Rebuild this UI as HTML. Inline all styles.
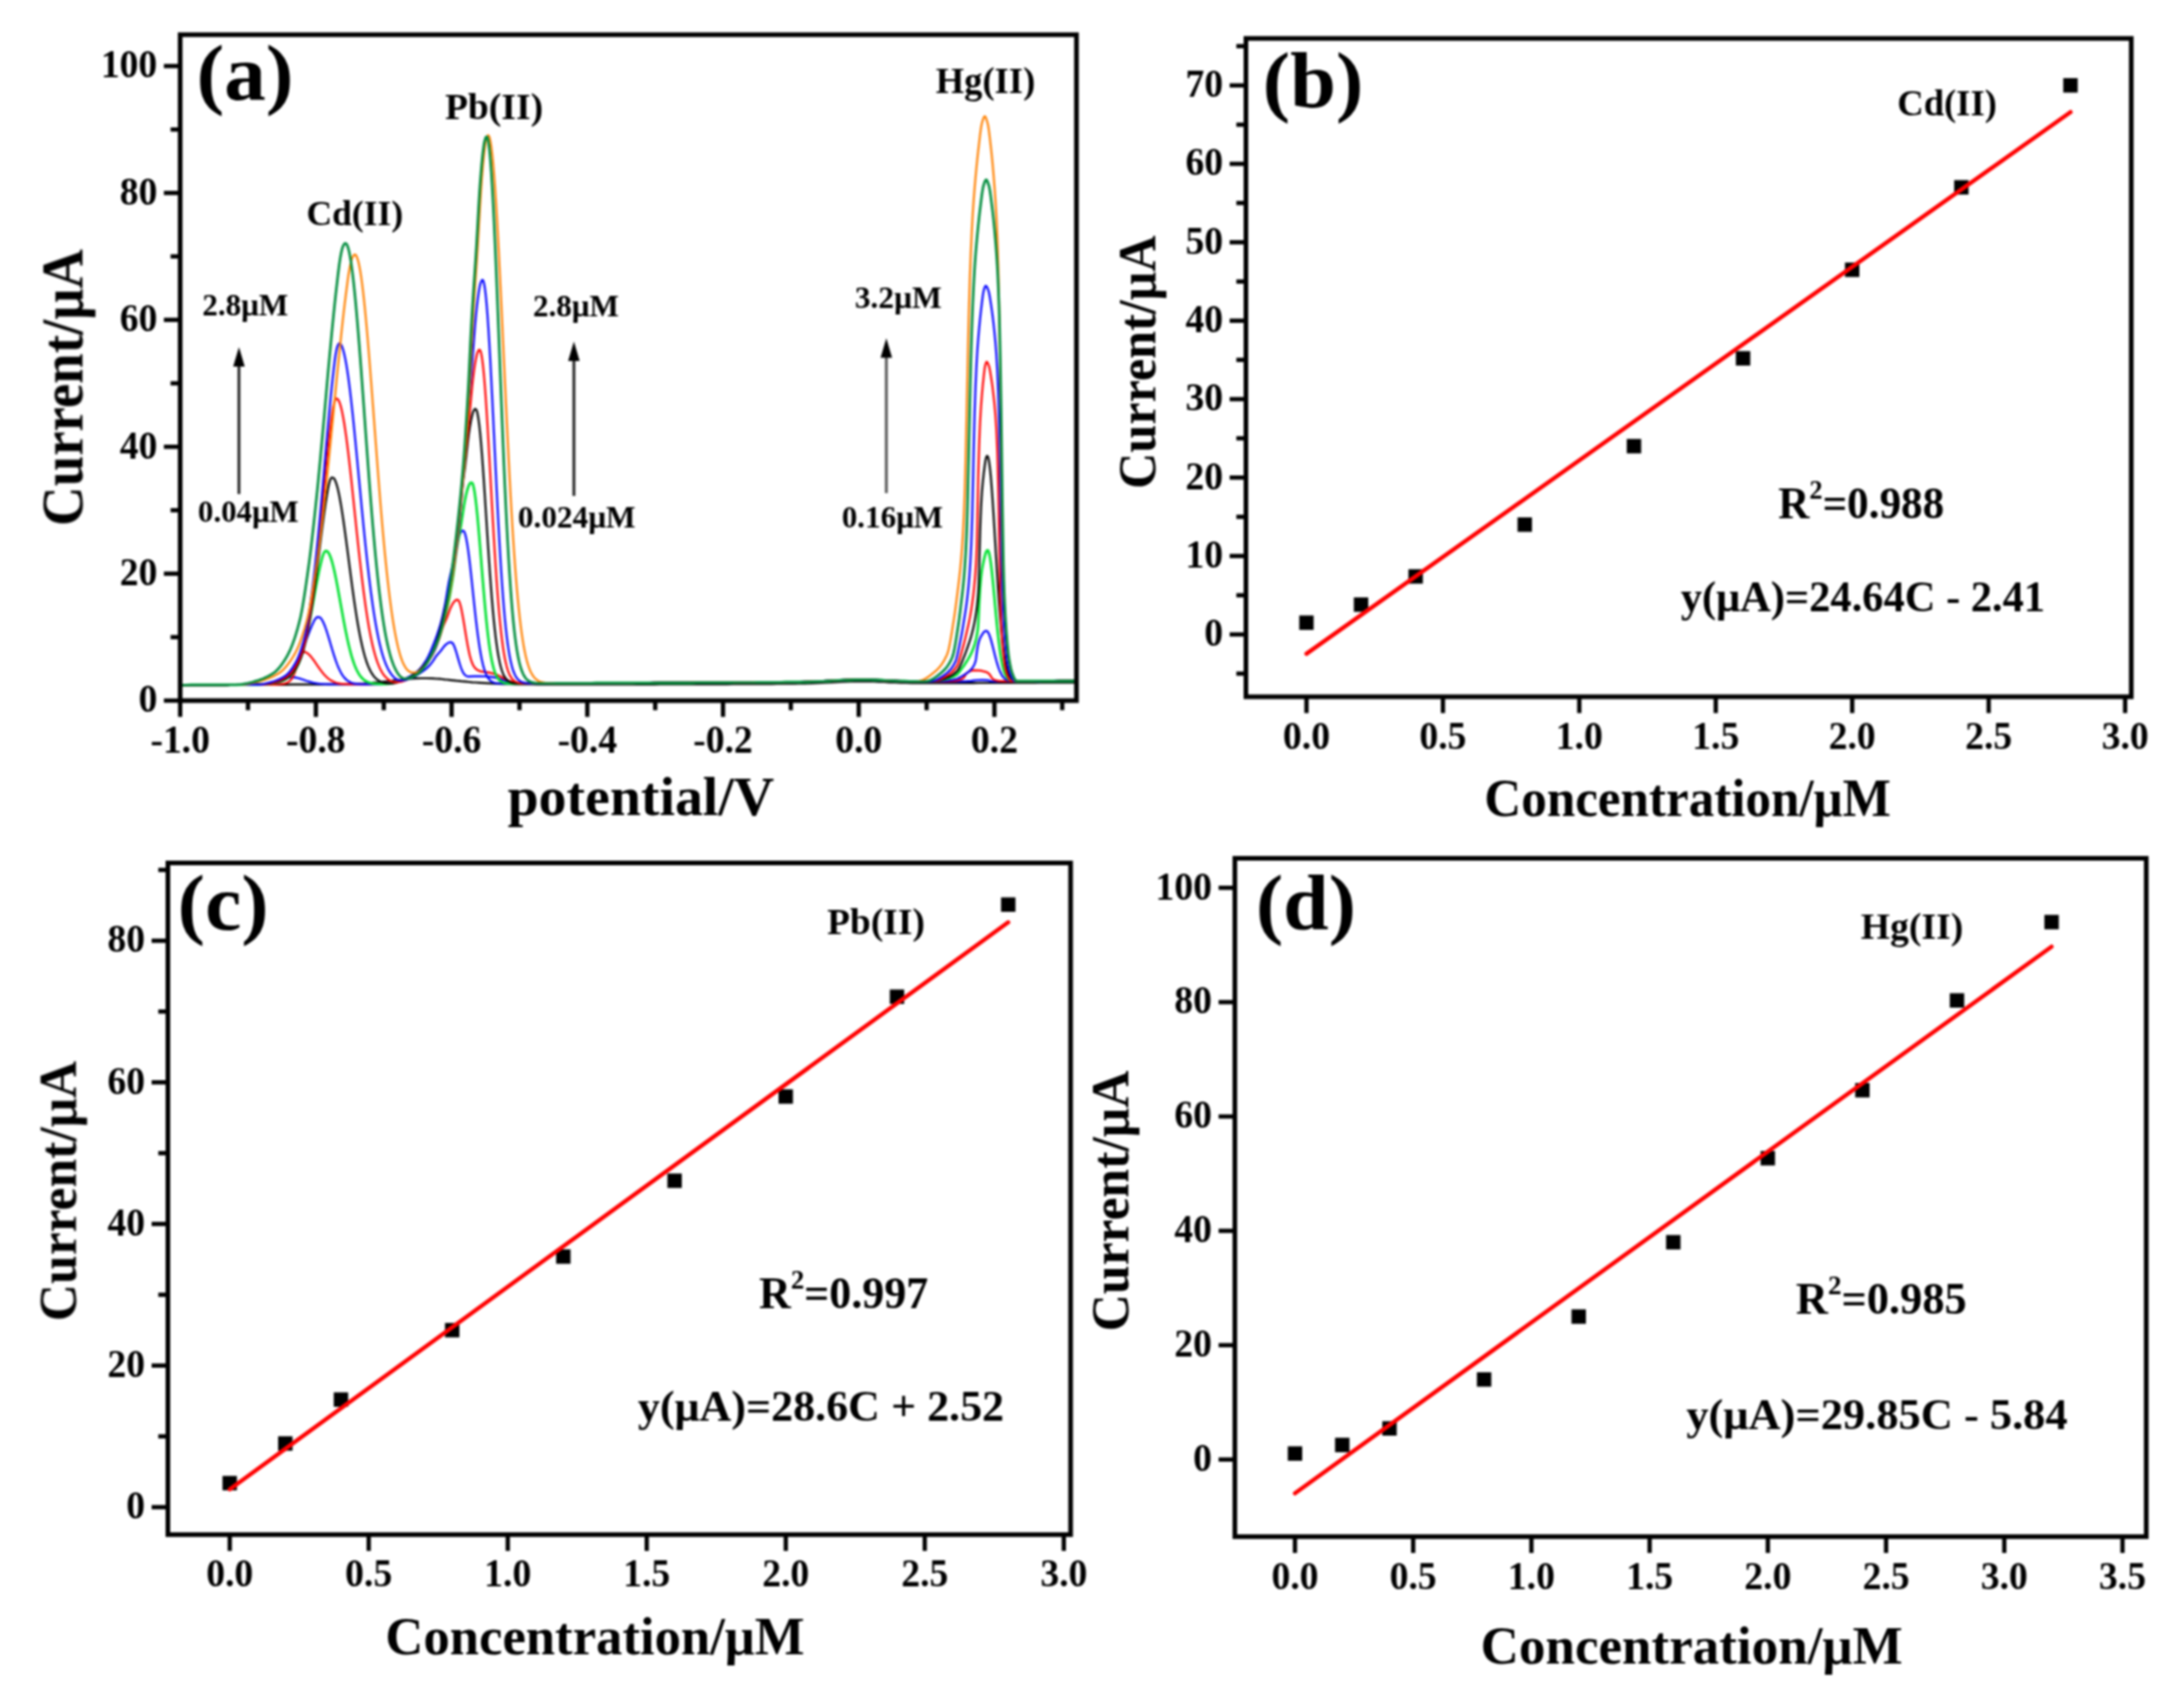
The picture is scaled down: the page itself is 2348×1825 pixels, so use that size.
<!DOCTYPE html>
<html lang="en">
<head>
<meta charset="utf-8">
<title>Figure</title>
<style>
html,body{margin:0;padding:0;background:#fff;}
body{width:2348px;height:1825px;overflow:hidden;}
svg{display:block;}
svg text{font-family:'Liberation Serif', serif;font-weight:bold;fill:#000;}
</style>
</head>
<body>
<svg width="2348" height="1825" viewBox="0 0 2348 1825">
<defs><filter id="soft" filterUnits="userSpaceOnUse" x="0" y="0" width="2348" height="1825" color-interpolation-filters="sRGB"><feGaussianBlur stdDeviation="0.8"/></filter></defs>
<rect x="0" y="0" width="2348" height="1825" fill="#ffffff"/>
<g filter="url(#soft)">
<g>
<path d="M193.7,736.3 199.7,736.3 205.7,736.2 211.7,736.2 217.7,736.2 223.7,736.2 229.7,736.1 235.7,736.1 241.7,736.1 247.7,736.0 253.7,736.0 259.7,736.0 265.7,736.0 271.7,735.9 277.7,735.9 283.7,735.9 289.7,735.8 295.7,735.8 301.7,735.8 307.7,735.8 313.7,735.7 319.7,735.7 325.7,735.7 331.7,735.7 337.7,735.6 343.7,735.6 349.7,735.5 355.7,735.5 361.7,735.4 367.7,735.3 373.7,735.2 379.7,735.1 385.7,734.8 391.2,734.6 395.7,734.3 399.2,734.0 402.7,733.7 405.7,733.5 408.7,733.2 411.2,732.9 413.7,732.6 416.2,732.3 418.7,732.1 421.2,731.8 423.7,731.4 426.2,731.1 428.7,730.8 431.2,730.6 433.7,730.3 436.2,730.0 439.2,729.7 442.7,729.4 446.7,729.2 452.7,729.0 458.7,729.0 464.7,729.2 469.2,729.5 472.7,729.7 475.7,730.0 478.2,730.3 480.7,730.5 483.2,730.8 485.7,731.1 488.2,731.4 490.7,731.7 493.2,731.9 495.7,732.2 498.2,732.4 501.2,732.7 504.2,733.0 507.7,733.3 511.2,733.5 515.7,733.8 520.7,734.1 524.7,734.3 529.7,734.6 535.7,734.9 541.7,735.1 547.7,735.2 553.7,735.3 559.7,735.4 565.7,735.5 571.7,735.5 577.7,735.6 583.7,735.6 589.7,735.6 595.7,735.7 601.7,735.7 607.7,735.7 613.7,735.7 619.7,735.7 625.7,735.7 631.7,735.7 637.7,735.7 643.7,735.7 649.7,735.7 655.7,735.7 661.7,735.7 667.7,735.7 673.7,735.7 679.7,735.6 685.7,735.6 691.7,735.6 697.7,735.6 703.7,735.6 709.7,735.5 715.7,735.5 721.7,735.5 727.7,735.5 733.7,735.5 739.7,735.4 745.7,735.4 751.7,735.4 757.7,735.4 763.7,735.3 769.7,735.3 775.7,735.3 781.7,735.3 787.7,735.2 793.7,735.2 799.7,735.2 805.7,735.2 811.7,735.1 817.7,735.1 823.7,735.1 829.7,735.1 835.7,735.0 841.7,735.0 847.7,734.9 853.7,734.8 859.7,734.7 865.7,734.6 871.7,734.4 877.7,734.2 883.7,733.9 888.7,733.7 893.7,733.4 898.7,733.1 903.7,732.8 909.2,732.6 915.2,732.4 921.2,732.3 927.2,732.3 933.2,732.3 939.2,732.5 945.2,732.8 950.7,733.0 956.2,733.3 962.2,733.5 968.2,733.8 974.2,733.9 980.2,734.1 986.2,734.1 992.2,734.2 998.2,734.2 1004.2,734.2 1010.2,734.2 1016.2,734.2 1022.2,734.2 1028.2,734.2 1034.2,734.1 1040.2,734.1 1046.2,734.1 1052.2,734.0 1058.2,734.0 1064.2,734.0 1070.2,734.0 1076.2,733.9 1082.2,733.9 1088.2,733.9 1094.2,733.9 1100.2,733.8 1106.2,733.8 1112.2,733.8 1118.2,733.7 1124.2,733.7 1130.2,733.7 1136.2,733.7 1142.2,733.6 1148.2,733.6 1154.2,733.6 1157.2,733.6" fill="none" stroke="#000000" stroke-width="2.2" stroke-linejoin="round"/>
<path d="M193.7,736.3 199.7,736.3 205.7,736.2 211.7,736.2 217.7,736.2 223.7,736.2 229.7,736.1 235.7,736.1 241.7,736.1 247.7,736.0 253.7,736.0 259.7,736.0 265.7,736.0 271.7,735.9 277.7,735.9 283.7,735.7 289.2,735.5 292.2,735.2 294.2,734.9 295.7,734.7 297.2,734.3 298.2,733.9 299.2,733.6 300.2,733.2 301.2,732.8 302.2,732.3 303.2,731.8 303.7,731.6 304.2,731.3 304.7,731.0 305.2,730.8 305.7,730.5 306.2,730.2 306.7,729.9 307.2,729.7 307.7,729.4 308.7,728.9 309.7,728.5 310.7,728.1 312.2,727.8 317.2,728.1 318.7,728.4 320.2,728.8 321.2,729.0 322.2,729.3 323.2,729.6 324.2,730.0 325.2,730.3 326.2,730.6 327.2,731.0 328.2,731.3 329.2,731.7 330.2,732.0 331.2,732.3 332.2,732.6 333.2,732.9 334.2,733.2 335.2,733.4 336.7,733.8 338.2,734.1 339.7,734.4 341.7,734.7 344.2,735.0 347.7,735.2 353.7,735.4 359.7,735.5 365.7,735.5 371.7,735.5 377.7,735.4 383.7,735.4 389.7,735.4 395.7,735.3 401.7,735.0 406.7,734.8 411.2,734.5 414.7,734.2 417.7,733.9 420.2,733.6 422.2,733.3 424.2,733.1 426.2,732.8 428.2,732.4 429.7,732.2 431.2,731.9 432.7,731.6 434.2,731.3 435.7,730.9 436.7,730.6 437.7,730.3 438.7,730.0 439.7,729.6 440.7,729.2 441.7,728.9 442.7,728.5 443.7,728.0 444.7,727.5 445.2,727.3 445.7,727.0 446.2,726.7 446.7,726.5 447.2,726.2 447.7,725.9 448.2,725.6 448.7,725.3 449.2,725.0 449.7,724.7 450.2,724.3 450.7,724.0 451.2,723.7 451.7,723.4 452.2,723.1 452.7,722.7 453.2,722.4 453.7,722.1 454.2,721.7 454.7,721.4 455.2,721.0 455.7,720.6 456.2,720.3 456.7,719.9 457.2,719.5 457.7,719.1 458.2,718.7 458.7,718.2 459.2,717.8 459.7,717.3 460.2,716.9 460.7,716.4 461.2,715.8 461.7,715.3 462.2,714.7 462.7,714.1 463.2,713.5 463.7,712.9 464.2,712.2 464.7,711.6 465.2,710.9 465.7,710.2 466.2,709.4 466.7,708.6 467.2,707.8 467.7,707.0 468.2,706.2 468.7,705.5 469.2,704.9 469.7,704.3 470.2,703.7 470.7,703.1 471.2,702.5 471.7,702.0 472.2,701.4 472.7,700.8 473.2,700.3 473.7,699.7 474.2,699.0 474.7,698.3 475.2,697.7 475.7,697.0 476.2,696.3 476.7,695.6 477.2,695.0 477.7,694.4 478.2,693.9 478.7,693.4 479.2,692.9 479.7,692.5 480.2,692.1 480.7,691.7 481.2,691.4 481.7,691.1 482.2,690.8 483.2,690.5 484.7,690.2 486.2,690.9 486.7,691.4 487.2,692.2 487.7,693.2 488.2,694.2 488.7,695.5 489.2,696.8 489.7,698.3 490.2,699.9 490.7,701.5 491.2,703.2 491.7,704.9 492.2,706.7 492.7,708.4 493.2,710.1 493.7,711.8 494.2,713.4 494.7,715.0 495.2,716.4 495.7,717.8 496.2,719.1 496.7,720.3 497.2,721.4 497.7,722.4 498.2,723.3 498.7,724.0 499.2,724.7 499.7,725.2 500.2,725.7 500.7,726.1 501.2,726.4 502.2,726.8 503.7,727.1 509.7,726.9 515.7,726.8 521.7,727.0 525.7,727.3 528.2,727.6 530.2,727.9 531.7,728.2 533.2,728.5 534.2,728.8 535.2,729.1 536.2,729.4 537.2,729.7 538.2,730.0 539.2,730.3 540.2,730.7 541.2,731.0 542.2,731.3 543.2,731.7 544.2,732.0 545.2,732.3 546.2,732.5 547.7,732.9 549.2,733.2 550.7,733.5 552.7,733.8 555.2,734.0 559.2,734.3 565.2,734.5 571.2,734.5 577.2,734.5 583.2,734.5 589.2,734.5 595.2,734.4 601.2,734.4 607.2,734.4 613.2,734.4 619.2,734.3 625.2,734.3 631.2,734.3 637.2,734.3 643.2,734.2 649.2,734.2 655.2,734.2 661.2,734.1 667.2,734.1 673.2,734.1 679.2,734.1 685.2,734.0 691.2,734.0 697.2,734.0 703.2,733.9 709.2,733.9 715.2,733.9 721.2,733.9 727.2,733.8 733.2,733.8 739.2,733.8 745.2,733.8 751.2,733.7 757.2,733.7 763.2,733.7 769.2,733.6 775.2,733.6 781.2,733.6 787.2,733.6 793.2,733.5 799.2,733.5 805.2,733.5 811.2,733.4 817.2,733.4 823.2,733.4 829.2,733.4 835.2,733.3 841.2,733.3 847.2,733.2 853.2,733.1 859.2,733.0 865.2,732.9 871.2,732.7 877.2,732.5 883.2,732.2 888.2,732.0 893.2,731.7 897.7,731.5 902.7,731.2 908.2,730.9 914.2,730.7 920.2,730.6 926.2,730.5 932.2,730.6 938.2,730.8 944.2,731.0 950.2,731.3 955.7,731.6 961.7,731.8 967.7,732.0 973.7,732.2 979.7,732.4 985.7,732.4 991.7,732.5 997.7,732.5 1003.7,732.5 1009.7,732.5 1015.7,732.5 1021.7,732.5 1027.7,732.4 1033.7,732.4 1039.7,732.2 1044.2,731.9 1045.7,731.6 1047.2,731.3 1050.2,731.0 1056.2,730.8 1061.7,731.1 1063.2,731.4 1064.2,731.8 1065.7,732.1 1071.7,732.3 1077.7,732.2 1083.7,732.2 1089.7,732.2 1095.7,732.1 1101.7,732.1 1107.7,732.1 1113.7,732.1 1119.7,732.0 1125.7,732.0 1131.7,732.0 1137.7,731.9 1143.7,731.9 1149.7,731.9 1155.7,731.9 1157.2,731.9" fill="none" stroke="#0000ff" stroke-width="2.2" stroke-linejoin="round"/>
<path d="M193.7,736.3 199.7,736.3 205.7,736.2 211.7,736.2 217.7,736.2 223.7,736.2 229.7,736.1 235.7,736.1 241.7,736.1 247.7,736.0 253.7,736.0 259.7,736.0 265.7,736.0 271.7,735.9 277.7,735.9 283.7,735.9 289.7,735.8 295.7,735.8 299.7,735.5 302.7,735.2 304.7,734.9 306.2,734.6 307.2,734.3 308.2,733.9 309.2,733.4 309.7,733.2 310.2,732.9 310.7,732.5 311.2,732.1 311.7,731.7 312.2,731.2 312.7,730.7 313.2,730.1 313.7,729.4 314.2,728.5 314.7,727.6 315.2,726.6 315.7,725.6 316.2,724.5 316.7,723.3 317.2,722.0 317.7,720.7 318.2,719.3 318.7,717.9 319.2,716.4 319.7,714.9 320.2,713.3 320.7,711.8 321.2,710.2 321.7,708.8 322.2,707.3 322.7,706.0 323.2,704.7 323.7,703.5 324.2,702.3 324.7,701.4 325.2,700.8 325.7,700.6 328.2,700.9 329.2,701.3 329.7,701.6 330.2,701.9 330.7,702.3 331.2,702.7 331.7,703.1 332.2,703.5 332.7,704.0 333.2,704.5 333.7,705.1 334.2,705.6 334.7,706.2 335.2,706.9 335.7,707.5 336.2,708.2 336.7,708.8 337.2,709.5 337.7,710.2 338.2,710.9 338.7,711.6 339.2,712.4 339.7,713.1 340.2,713.8 340.7,714.6 341.2,715.3 341.7,716.0 342.2,716.8 342.7,717.5 343.2,718.2 343.7,718.9 344.2,719.6 344.7,720.3 345.2,720.9 345.7,721.6 346.2,722.3 346.7,722.9 347.2,723.5 347.7,724.1 348.2,724.7 348.7,725.2 349.2,725.8 349.7,726.3 350.2,726.8 350.7,727.3 351.2,727.8 351.7,728.2 352.2,728.7 352.7,729.1 353.2,729.5 353.7,729.9 354.2,730.2 354.7,730.6 355.2,730.9 355.7,731.2 356.2,731.5 356.7,731.8 357.2,732.1 358.2,732.5 359.2,733.0 360.2,733.3 361.2,733.7 362.2,734.0 363.7,734.3 365.2,734.6 367.2,734.9 370.2,735.1 376.2,735.4 382.2,735.4 388.2,735.4 394.2,735.4 400.2,735.3 404.7,735.0 407.7,734.8 410.7,734.5 413.2,734.2 415.7,733.9 418.2,733.6 420.2,733.3 421.7,733.1 423.2,732.8 424.7,732.5 426.2,732.1 427.7,731.8 428.7,731.5 429.7,731.2 430.7,730.9 431.7,730.6 432.7,730.3 433.7,730.0 434.7,729.7 435.7,729.3 436.7,729.0 437.7,728.6 438.7,728.3 439.7,727.9 440.7,727.5 441.7,727.0 442.2,726.7 442.7,726.5 443.2,726.2 443.7,725.9 444.2,725.6 444.7,725.2 445.2,724.9 445.7,724.6 446.2,724.2 446.7,723.9 447.2,723.5 447.7,723.1 448.2,722.7 448.7,722.3 449.2,721.9 449.7,721.5 450.2,721.1 450.7,720.6 451.2,720.1 451.7,719.6 452.2,719.1 452.7,718.6 453.2,718.0 453.7,717.5 454.2,716.9 454.7,716.3 455.2,715.7 455.7,715.1 456.2,714.5 456.7,713.8 457.2,713.2 457.7,712.5 458.2,711.9 458.7,711.2 459.2,710.6 459.7,709.9 460.2,709.2 460.7,708.6 461.2,707.9 461.7,707.2 462.2,706.4 462.7,705.7 463.2,704.9 463.7,704.2 464.2,703.4 464.7,702.5 465.2,701.7 465.7,700.8 466.2,699.9 466.7,699.0 467.2,698.0 467.7,697.0 468.2,695.9 468.7,694.8 469.2,693.7 469.7,692.5 470.2,691.2 470.7,689.9 471.2,688.6 471.7,687.3 472.2,685.9 472.7,684.4 473.2,682.8 473.7,681.2 474.2,679.6 474.7,678.0 475.2,676.5 475.7,675.1 476.2,673.8 476.7,672.6 477.2,671.4 477.7,670.2 478.2,669.1 478.7,668.0 479.2,666.8 479.7,665.7 480.2,664.5 480.7,663.3 481.2,662.0 481.7,660.6 482.2,659.2 482.7,657.8 483.2,656.4 483.7,655.1 484.2,653.9 484.7,652.7 485.2,651.7 485.7,650.7 486.2,649.8 486.7,648.9 487.2,648.1 487.7,647.4 488.2,646.8 488.7,646.2 489.2,645.7 489.7,645.3 490.2,645.0 491.2,644.6 492.7,645.0 493.2,645.7 493.7,646.7 494.2,647.9 494.7,649.5 495.2,651.3 495.7,653.3 496.2,655.6 496.7,658.1 497.2,660.7 497.7,663.4 498.2,666.3 498.7,669.3 499.2,672.3 499.7,675.4 500.2,678.5 500.7,681.5 501.2,684.6 501.7,687.5 502.2,690.4 502.7,693.2 503.2,695.8 503.7,698.3 504.2,700.7 504.7,702.9 505.2,705.0 505.7,706.8 506.2,708.6 506.7,710.1 507.2,711.5 507.7,712.8 508.2,713.9 508.7,714.9 509.2,715.8 509.7,716.6 510.2,717.3 510.7,717.9 511.2,718.4 511.7,718.9 512.2,719.3 512.7,719.7 513.2,720.0 513.7,720.3 514.2,720.6 515.2,721.0 516.2,721.4 517.2,721.6 518.7,721.9 520.7,722.2 522.7,722.5 524.7,722.7 526.7,723.1 528.2,723.4 529.7,723.8 530.7,724.1 531.7,724.4 532.7,724.7 533.7,725.1 534.7,725.6 535.7,726.0 536.7,726.5 537.2,726.7 537.7,727.0 538.2,727.3 538.7,727.5 539.2,727.8 539.7,728.1 540.2,728.3 540.7,728.6 541.2,728.9 541.7,729.1 542.2,729.4 542.7,729.6 543.2,729.9 544.2,730.4 545.2,730.8 546.2,731.3 547.2,731.7 548.2,732.0 549.2,732.4 550.2,732.6 551.2,732.9 552.7,733.2 554.2,733.5 556.2,733.8 558.7,734.1 563.2,734.3 569.2,734.5 575.2,734.5 581.2,734.5 587.2,734.5 593.2,734.5 599.2,734.4 605.2,734.4 611.2,734.4 617.2,734.3 623.2,734.3 629.2,734.3 635.2,734.3 641.2,734.2 647.2,734.2 653.2,734.2 659.2,734.1 665.2,734.1 671.2,734.1 677.2,734.1 683.2,734.0 689.2,734.0 695.2,734.0 701.2,734.0 707.2,733.9 713.2,733.9 719.2,733.9 725.2,733.8 731.2,733.8 737.2,733.8 743.2,733.8 749.2,733.7 755.2,733.7 761.2,733.7 767.2,733.7 773.2,733.6 779.2,733.6 785.2,733.6 791.2,733.5 797.2,733.5 803.2,733.5 809.2,733.5 815.2,733.4 821.2,733.4 827.2,733.4 833.2,733.3 839.2,733.3 845.2,733.2 851.2,733.2 857.2,733.1 863.2,733.0 869.2,732.8 875.2,732.6 881.2,732.3 886.7,732.1 891.7,731.8 896.2,731.5 901.2,731.3 906.2,731.0 912.2,730.8 918.2,730.6 924.2,730.5 930.2,730.6 936.2,730.7 942.2,730.9 948.2,731.2 953.7,731.5 959.7,731.7 965.7,732.0 971.7,732.2 977.7,732.3 983.7,732.4 989.7,732.5 995.7,732.5 1001.7,732.5 1007.7,732.5 1013.7,732.4 1019.7,732.2 1024.7,732.0 1027.2,731.7 1028.7,731.3 1030.2,731.0 1031.2,730.7 1032.2,730.4 1033.2,730.1 1034.2,729.7 1034.7,729.4 1035.2,729.1 1035.7,728.7 1036.2,728.2 1036.7,727.5 1037.2,726.6 1037.7,725.8 1038.2,724.9 1038.7,724.2 1039.2,723.7 1039.7,723.2 1040.2,722.8 1040.7,722.4 1041.2,722.2 1042.2,721.7 1043.2,721.3 1044.2,721.0 1045.2,720.7 1046.7,720.4 1052.7,720.6 1054.7,720.9 1056.2,721.2 1057.7,721.6 1058.7,721.8 1059.7,722.1 1060.7,722.5 1061.7,723.0 1062.2,723.3 1062.7,723.7 1063.2,724.1 1063.7,724.7 1064.2,725.3 1064.7,726.0 1065.2,726.8 1065.7,727.6 1066.2,728.4 1066.7,729.1 1067.2,729.6 1067.7,730.0 1068.2,730.2 1069.2,730.7 1070.2,731.0 1071.2,731.3 1072.7,731.6 1074.7,731.9 1078.7,732.1 1084.7,732.2 1090.7,732.2 1096.7,732.1 1102.7,732.1 1108.7,732.1 1114.7,732.1 1120.7,732.0 1126.7,732.0 1132.7,732.0 1138.7,731.9 1144.7,731.9 1150.7,731.9 1156.7,731.9 1157.2,731.9" fill="none" stroke="#ff0000" stroke-width="2.2" stroke-linejoin="round"/>
<path d="M193.7,736.3 199.7,736.3 205.7,736.2 211.7,736.2 217.7,736.2 223.7,736.2 229.7,736.1 235.7,736.1 241.7,736.1 247.7,736.0 253.7,736.0 259.7,736.0 265.7,736.0 271.7,735.9 276.7,735.6 280.7,735.4 284.2,735.1 287.2,734.8 289.7,734.5 291.7,734.2 293.7,733.9 295.2,733.6 296.7,733.2 297.7,733.0 298.7,732.6 299.7,732.3 300.7,731.9 301.7,731.5 302.7,731.1 303.7,730.7 304.7,730.2 305.2,729.9 305.7,729.6 306.2,729.3 306.7,729.0 307.2,728.6 307.7,728.3 308.2,727.9 308.7,727.5 309.2,727.1 309.7,726.7 310.2,726.3 310.7,725.8 311.2,725.3 311.7,724.8 312.2,724.3 312.7,723.7 313.2,723.0 313.7,722.3 314.2,721.6 314.7,720.8 315.2,720.0 315.7,719.1 316.2,718.3 316.7,717.4 317.2,716.6 317.7,715.7 318.2,714.7 318.7,713.8 319.2,712.8 319.7,711.7 320.2,710.7 320.7,709.6 321.2,708.5 321.7,707.3 322.2,706.2 322.7,705.1 323.2,703.9 323.7,702.7 324.2,701.4 324.7,700.1 325.2,698.8 325.7,697.5 326.2,696.2 326.7,694.8 327.2,693.5 327.7,692.2 328.2,690.8 328.7,689.4 329.2,688.0 329.7,686.7 330.2,685.3 330.7,683.9 331.2,682.6 331.7,681.3 332.2,680.0 332.7,678.7 333.2,677.5 333.7,676.2 334.2,675.0 334.7,673.8 335.2,672.6 335.7,671.5 336.2,670.4 336.7,669.4 337.2,668.3 337.7,667.3 338.2,666.4 338.7,665.6 339.2,664.9 339.7,664.3 340.2,663.8 340.7,663.5 341.7,663.1 343.7,663.5 344.2,663.8 344.7,664.3 345.2,664.9 345.7,665.5 346.2,666.3 346.7,667.2 347.2,668.1 347.7,669.2 348.2,670.3 348.7,671.5 349.2,672.7 349.7,674.1 350.2,675.5 350.7,676.9 351.2,678.4 351.7,680.0 352.2,681.5 352.7,683.1 353.2,684.8 353.7,686.4 354.2,688.1 354.7,689.8 355.2,691.5 355.7,693.2 356.2,694.9 356.7,696.5 357.2,698.2 357.7,699.9 358.2,701.5 358.7,703.1 359.2,704.6 359.7,706.2 360.2,707.7 360.7,709.1 361.2,710.6 361.7,711.9 362.2,713.3 362.7,714.6 363.2,715.8 363.7,717.0 364.2,718.2 364.7,719.3 365.2,720.3 365.7,721.3 366.2,722.3 366.7,723.2 367.2,724.1 367.7,724.9 368.2,725.7 368.7,726.4 369.2,727.1 369.7,727.7 370.2,728.3 370.7,728.9 371.2,729.4 371.7,729.9 372.2,730.4 372.7,730.8 373.2,731.2 373.7,731.6 374.2,731.9 374.7,732.3 375.2,732.6 375.7,732.8 376.7,733.3 377.7,733.7 378.7,734.0 379.7,734.3 381.2,734.6 383.2,734.9 386.2,735.2 392.2,735.3 398.2,735.3 404.2,735.3 410.2,735.2 413.2,735.0 415.2,734.7 417.2,734.4 418.7,734.1 420.2,733.9 421.7,733.6 423.2,733.2 424.7,732.9 426.2,732.6 427.7,732.2 428.7,732.0 429.7,731.7 430.7,731.4 431.7,731.0 432.7,730.7 433.7,730.3 434.7,729.9 435.7,729.4 436.7,729.0 437.7,728.5 438.2,728.2 438.7,728.0 439.2,727.7 439.7,727.4 440.2,727.1 440.7,726.9 441.2,726.6 441.7,726.3 442.2,726.0 442.7,725.7 443.2,725.4 443.7,725.0 444.2,724.7 444.7,724.4 445.2,724.1 445.7,723.7 446.2,723.4 446.7,723.0 447.2,722.7 447.7,722.3 448.2,721.9 448.7,721.6 449.2,721.1 449.7,720.7 450.2,720.2 450.7,719.7 451.2,719.2 451.7,718.7 452.2,718.1 452.7,717.5 453.2,716.9 453.7,716.2 454.2,715.6 454.7,714.9 455.2,714.2 455.7,713.5 456.2,712.7 456.7,712.0 457.2,711.2 457.7,710.5 458.2,709.6 458.7,708.8 459.2,707.8 459.7,706.9 460.2,705.9 460.7,704.9 461.2,703.8 461.7,702.7 462.2,701.6 462.7,700.5 463.2,699.3 463.7,698.1 464.2,696.9 464.7,695.7 465.2,694.5 465.7,693.2 466.2,692.0 466.7,690.7 467.2,689.5 467.7,688.2 468.2,686.9 468.7,685.5 469.2,684.2 469.7,682.8 470.2,681.4 470.7,679.9 471.2,678.4 471.7,676.9 472.2,675.3 472.7,673.7 473.2,672.0 473.7,670.2 474.2,668.4 474.7,666.5 475.2,664.5 475.7,662.4 476.2,660.2 476.7,657.9 477.2,655.5 477.7,653.1 478.2,650.6 478.7,648.1 479.2,645.4 479.7,642.5 480.2,639.4 480.7,636.3 481.2,633.2 481.7,630.2 482.2,627.4 482.7,624.8 483.2,622.4 483.7,620.1 484.2,617.8 484.7,615.7 485.2,613.5 485.7,611.3 486.2,609.1 486.7,606.9 487.2,604.5 487.7,602.0 488.2,599.4 488.7,596.8 489.2,594.1 489.7,591.5 490.2,589.0 490.7,586.6 491.2,584.5 491.7,582.5 492.2,580.7 492.7,579.0 493.2,577.4 493.7,575.9 494.2,574.7 494.7,573.5 495.2,572.5 495.7,571.7 496.2,571.2 496.7,570.7 497.2,570.4 498.7,570.8 499.2,571.7 499.7,572.9 500.2,574.5 500.7,576.4 501.2,578.6 501.7,581.2 502.2,584.0 502.7,587.2 503.2,590.6 503.7,594.2 504.2,598.1 504.7,602.2 505.2,606.4 505.7,610.8 506.2,615.3 506.7,619.9 507.2,624.5 507.7,629.3 508.2,634.0 508.7,638.8 509.2,643.5 509.7,648.2 510.2,652.8 510.7,657.4 511.2,661.9 511.7,666.3 512.2,670.5 512.7,674.7 513.2,678.7 513.7,682.5 514.2,686.2 514.7,689.7 515.2,693.1 515.7,696.3 516.2,699.3 516.7,702.2 517.2,704.9 517.7,707.5 518.2,709.9 518.7,712.1 519.2,714.2 519.7,716.1 520.2,717.9 520.7,719.5 521.2,721.0 521.7,722.4 522.2,723.7 522.7,724.9 523.2,725.9 523.7,726.9 524.2,727.8 524.7,728.6 525.2,729.3 525.7,729.9 526.2,730.5 526.7,731.0 527.2,731.5 527.7,731.9 528.2,732.3 528.7,732.6 529.2,732.9 530.2,733.3 531.2,733.7 532.2,734.0 533.7,734.3 536.2,734.5 542.2,734.7 548.2,734.7 554.2,734.6 560.2,734.6 566.2,734.6 572.2,734.5 578.2,734.5 584.2,734.5 590.2,734.5 596.2,734.4 602.2,734.4 608.2,734.4 614.2,734.4 620.2,734.3 626.2,734.3 632.2,734.3 638.2,734.2 644.2,734.2 650.2,734.2 656.2,734.2 662.2,734.1 668.2,734.1 674.2,734.1 680.2,734.1 686.2,734.0 692.2,734.0 698.2,734.0 704.2,733.9 710.2,733.9 716.2,733.9 722.2,733.9 728.2,733.8 734.2,733.8 740.2,733.8 746.2,733.7 752.2,733.7 758.2,733.7 764.2,733.7 770.2,733.6 776.2,733.6 782.2,733.6 788.2,733.6 794.2,733.5 800.2,733.5 806.2,733.5 812.2,733.4 818.2,733.4 824.2,733.4 830.2,733.4 836.2,733.3 842.2,733.3 848.2,733.2 854.2,733.1 860.2,733.0 866.2,732.9 872.2,732.7 878.2,732.5 883.7,732.2 888.7,732.0 893.7,731.7 898.2,731.4 903.2,731.2 908.7,730.9 914.7,730.7 920.7,730.6 926.7,730.6 932.7,730.6 938.7,730.8 944.7,731.0 950.7,731.3 956.2,731.6 962.2,731.8 968.2,732.1 974.2,732.2 980.2,732.4 986.2,732.4 992.2,732.5 998.2,732.5 1004.2,732.5 1009.7,732.2 1013.2,731.9 1016.2,731.7 1019.2,731.4 1021.7,731.0 1023.7,730.8 1025.2,730.5 1026.7,730.2 1028.2,729.8 1029.2,729.5 1030.2,729.1 1031.2,728.6 1031.7,728.3 1032.2,728.0 1032.7,727.7 1033.2,727.4 1033.7,727.1 1034.2,726.8 1034.7,726.6 1035.2,726.3 1035.7,726.0 1036.2,725.6 1036.7,725.3 1037.2,725.0 1037.7,724.6 1038.2,724.3 1038.7,723.9 1039.2,723.6 1039.7,723.2 1040.2,722.9 1040.7,722.5 1041.2,722.1 1041.7,721.7 1042.2,721.3 1042.7,720.8 1043.2,720.3 1043.7,719.8 1044.2,719.2 1044.7,718.6 1045.2,718.0 1045.7,717.3 1046.2,716.6 1046.7,715.7 1047.2,714.8 1047.7,713.7 1048.2,712.4 1048.7,710.8 1049.2,708.7 1049.7,704.9 1050.2,701.0 1050.7,697.5 1051.2,694.6 1051.7,692.2 1052.2,690.3 1052.7,688.6 1053.2,687.1 1053.7,686.0 1054.2,684.9 1054.7,684.0 1055.2,683.1 1055.7,682.3 1056.2,681.5 1056.7,680.8 1057.2,680.1 1057.7,679.4 1058.2,678.9 1058.7,678.6 1059.2,678.3 1060.2,678.0 1061.2,678.4 1061.7,678.9 1062.2,679.6 1062.7,680.4 1063.2,681.5 1063.7,682.7 1064.2,684.1 1064.7,685.6 1065.2,687.2 1065.7,688.9 1066.2,690.7 1066.7,692.6 1067.2,694.5 1067.7,696.5 1068.2,698.5 1068.7,700.5 1069.2,702.5 1069.7,704.5 1070.2,706.4 1070.7,708.3 1071.2,710.2 1071.7,711.9 1072.2,713.6 1072.7,715.2 1073.2,716.8 1073.7,718.2 1074.2,719.6 1074.7,720.9 1075.2,722.0 1075.7,723.1 1076.2,724.1 1076.7,725.1 1077.2,725.9 1077.7,726.7 1078.2,727.3 1078.7,728.0 1079.2,728.5 1079.7,729.0 1080.2,729.4 1080.7,729.8 1081.2,730.2 1081.7,730.5 1082.2,730.7 1083.2,731.1 1084.2,731.4 1085.7,731.8 1088.2,732.0 1094.2,732.1 1100.2,732.1 1106.2,732.1 1112.2,732.1 1118.2,732.0 1124.2,732.0 1130.2,732.0 1136.2,732.0 1142.2,731.9 1148.2,731.9 1154.2,731.9 1157.2,731.9" fill="none" stroke="#0000ff" stroke-width="2.2" stroke-linejoin="round"/>
<path d="M193.7,736.3 199.7,736.3 205.7,736.2 211.7,736.2 217.7,736.2 223.7,736.2 229.7,736.1 235.7,736.1 241.7,736.1 247.7,736.0 253.7,736.0 259.7,736.0 265.7,736.0 271.7,735.9 277.7,735.9 282.7,735.6 285.2,735.4 287.7,735.1 289.7,734.8 291.7,734.5 293.7,734.2 295.2,733.9 296.7,733.6 298.2,733.3 299.7,732.9 300.7,732.6 301.7,732.3 302.7,732.0 303.7,731.7 304.7,731.2 305.7,730.7 306.2,730.4 306.7,730.1 307.2,729.8 307.7,729.5 308.2,729.2 308.7,728.8 309.2,728.5 309.7,728.1 310.2,727.7 310.7,727.3 311.2,726.9 311.7,726.5 312.2,726.0 312.7,725.6 313.2,725.1 313.7,724.6 314.2,724.0 314.7,723.4 315.2,722.8 315.7,722.1 316.2,721.4 316.7,720.7 317.2,720.0 317.7,719.2 318.2,718.4 318.7,717.5 319.2,716.6 319.7,715.7 320.2,714.7 320.7,713.7 321.2,712.5 321.7,711.3 322.2,709.9 322.7,708.4 323.2,706.9 323.7,705.3 324.2,703.6 324.7,702.0 325.2,700.2 325.7,698.5 326.2,696.8 326.7,694.9 327.2,693.0 327.7,691.0 328.2,689.0 328.7,686.8 329.2,684.7 329.7,682.5 330.2,680.2 330.7,677.9 331.2,675.6 331.7,673.3 332.2,670.8 332.7,668.3 333.2,665.8 333.7,663.2 334.2,660.5 334.7,657.9 335.2,655.2 335.7,652.5 336.2,649.9 336.7,647.1 337.2,644.3 337.7,641.6 338.2,638.8 338.7,636.0 339.2,633.3 339.7,630.6 340.2,628.0 340.7,625.5 341.2,622.9 341.7,620.4 342.2,617.9 342.7,615.4 343.2,613.0 343.7,610.7 344.2,608.4 344.7,606.3 345.2,604.2 345.7,602.1 346.2,600.1 346.7,598.3 347.2,596.8 347.7,595.5 348.2,594.3 348.7,593.4 349.2,592.9 349.7,592.4 350.2,592.1 351.7,592.5 352.2,592.9 352.7,593.5 353.2,594.2 353.7,595.0 354.2,596.0 354.7,597.1 355.2,598.4 355.7,599.8 356.2,601.3 356.7,602.9 357.2,604.7 357.7,606.5 358.2,608.5 358.7,610.5 359.2,612.7 359.7,614.9 360.2,617.2 360.7,619.6 361.2,622.1 361.7,624.6 362.2,627.2 362.7,629.8 363.2,632.5 363.7,635.2 364.2,637.9 364.7,640.7 365.2,643.4 365.7,646.2 366.2,649.0 366.7,651.8 367.2,654.6 367.7,657.3 368.2,660.1 368.7,662.8 369.2,665.5 369.7,668.2 370.2,670.8 370.7,673.4 371.2,676.0 371.7,678.5 372.2,680.9 372.7,683.3 373.2,685.7 373.7,688.0 374.2,690.2 374.7,692.4 375.2,694.5 375.7,696.5 376.2,698.5 376.7,700.4 377.2,702.3 377.7,704.1 378.2,705.8 378.7,707.4 379.2,709.0 379.7,710.5 380.2,712.0 380.7,713.4 381.2,714.7 381.7,716.0 382.2,717.2 382.7,718.4 383.2,719.5 383.7,720.5 384.2,721.5 384.7,722.4 385.2,723.3 385.7,724.2 386.2,724.9 386.7,725.7 387.2,726.4 387.7,727.0 388.2,727.7 388.7,728.2 389.2,728.8 389.7,729.3 390.2,729.8 390.7,730.2 391.2,730.6 391.7,731.0 392.2,731.3 392.7,731.7 393.2,732.0 393.7,732.3 394.2,732.5 395.2,733.0 396.2,733.4 397.2,733.7 398.2,734.0 399.7,734.4 401.2,734.6 403.7,734.9 408.2,735.2 414.2,735.2 417.2,734.9 419.2,734.6 420.7,734.4 422.2,734.1 423.7,733.8 425.2,733.4 426.7,733.0 427.7,732.8 428.7,732.5 429.7,732.2 430.7,732.0 431.7,731.7 432.7,731.4 433.7,731.1 434.7,730.7 435.7,730.4 436.7,730.0 437.7,729.5 438.7,729.1 439.7,728.6 440.2,728.3 440.7,728.1 441.2,727.8 441.7,727.5 442.2,727.2 442.7,726.9 443.2,726.6 443.7,726.3 444.2,726.0 444.7,725.7 445.2,725.3 445.7,725.0 446.2,724.6 446.7,724.3 447.2,723.9 447.7,723.6 448.2,723.2 448.7,722.8 449.2,722.4 449.7,722.0 450.2,721.6 450.7,721.2 451.2,720.8 451.7,720.4 452.2,720.0 452.7,719.5 453.2,719.1 453.7,718.7 454.2,718.2 454.7,717.7 455.2,717.3 455.7,716.8 456.2,716.2 456.7,715.6 457.2,715.0 457.7,714.4 458.2,713.7 458.7,713.0 459.2,712.3 459.7,711.5 460.2,710.7 460.7,709.9 461.2,709.1 461.7,708.2 462.2,707.3 462.7,706.4 463.2,705.5 463.7,704.6 464.2,703.6 464.7,702.7 465.2,701.6 465.7,700.5 466.2,699.4 466.7,698.2 467.2,697.0 467.7,695.7 468.2,694.4 468.7,693.1 469.2,691.7 469.7,690.3 470.2,688.9 470.7,687.4 471.2,685.9 471.7,684.4 472.2,682.9 472.7,681.3 473.2,679.8 473.7,678.2 474.2,676.6 474.7,675.1 475.2,673.5 475.7,671.8 476.2,670.2 476.7,668.5 477.2,666.8 477.7,665.0 478.2,663.2 478.7,661.3 479.2,659.4 479.7,657.5 480.2,655.5 480.7,653.4 481.2,651.3 481.7,649.1 482.2,646.8 482.7,644.4 483.2,641.9 483.7,639.2 484.2,636.4 484.7,633.6 485.2,630.6 485.7,627.6 486.2,624.5 486.7,621.3 487.2,618.0 487.7,614.5 488.2,610.7 488.7,606.8 489.2,602.9 489.7,599.1 490.2,595.4 490.7,592.1 491.2,588.9 491.7,586.0 492.2,583.1 492.7,580.3 493.2,577.6 493.7,574.9 494.2,572.2 494.7,569.5 495.2,566.7 495.7,563.7 496.2,560.6 496.7,557.4 497.2,554.1 497.7,550.8 498.2,547.5 498.7,544.3 499.2,541.2 499.7,538.4 500.2,535.9 500.7,533.5 501.2,531.3 501.7,529.2 502.2,527.2 502.7,525.5 503.2,524.0 503.7,522.6 504.2,521.3 504.7,520.3 505.2,519.7 505.7,519.1 506.2,518.7 507.7,519.0 508.2,520.0 508.7,521.5 509.2,523.5 509.7,525.9 510.2,528.8 510.7,532.1 511.2,535.8 511.7,539.8 512.2,544.3 512.7,549.0 513.2,554.0 513.7,559.3 514.2,564.8 514.7,570.5 515.2,576.4 515.7,582.5 516.2,588.6 516.7,594.8 517.2,601.0 517.7,607.3 518.2,613.5 518.7,619.7 519.2,625.8 519.7,631.8 520.2,637.7 520.7,643.5 521.2,649.2 521.7,654.6 522.2,659.9 522.7,665.0 523.2,669.9 523.7,674.6 524.2,679.1 524.7,683.3 525.2,687.4 525.7,691.2 526.2,694.8 526.7,698.2 527.2,701.4 527.7,704.3 528.2,707.1 528.7,709.7 529.2,712.1 529.7,714.3 530.2,716.3 530.7,718.2 531.2,719.9 531.7,721.4 532.2,722.9 532.7,724.2 533.2,725.3 533.7,726.4 534.2,727.4 534.7,728.2 535.2,729.0 535.7,729.7 536.2,730.3 536.7,730.9 537.2,731.3 537.7,731.8 538.2,732.2 538.7,732.5 539.2,732.8 539.7,733.1 540.7,733.5 541.7,733.8 543.2,734.1 545.2,734.4 551.2,734.6 557.2,734.6 563.2,734.6 569.2,734.6 575.2,734.5 581.2,734.5 587.2,734.5 593.2,734.5 599.2,734.4 605.2,734.4 611.2,734.4 617.2,734.3 623.2,734.3 629.2,734.3 635.2,734.3 641.2,734.2 647.2,734.2 653.2,734.2 659.2,734.1 665.2,734.1 671.2,734.1 677.2,734.1 683.2,734.0 689.2,734.0 695.2,734.0 701.2,734.0 707.2,733.9 713.2,733.9 719.2,733.9 725.2,733.8 731.2,733.8 737.2,733.8 743.2,733.8 749.2,733.7 755.2,733.7 761.2,733.7 767.2,733.7 773.2,733.6 779.2,733.6 785.2,733.6 791.2,733.5 797.2,733.5 803.2,733.5 809.2,733.5 815.2,733.4 821.2,733.4 827.2,733.4 833.2,733.3 839.2,733.3 845.2,733.2 851.2,733.2 857.2,733.1 863.2,733.0 869.2,732.8 875.2,732.6 881.2,732.3 886.7,732.1 891.7,731.8 896.2,731.5 901.2,731.3 906.2,731.0 912.2,730.8 918.2,730.6 924.2,730.5 930.2,730.6 936.2,730.7 942.2,730.9 948.2,731.2 953.7,731.5 959.7,731.7 965.7,732.0 971.7,732.2 977.7,732.3 983.7,732.4 989.7,732.5 995.7,732.5 1001.7,732.4 1005.2,732.1 1007.2,731.9 1008.7,731.6 1010.2,731.3 1011.7,731.0 1013.2,730.7 1014.7,730.4 1016.2,730.0 1017.7,729.7 1018.7,729.4 1019.7,729.1 1020.7,728.8 1021.7,728.5 1022.7,728.1 1023.7,727.7 1024.7,727.3 1025.7,726.8 1026.2,726.5 1026.7,726.3 1027.2,726.0 1027.7,725.7 1028.2,725.4 1028.7,725.0 1029.2,724.5 1029.7,724.0 1030.2,723.4 1030.7,722.9 1031.2,722.3 1031.7,721.6 1032.2,721.0 1032.7,720.3 1033.2,719.6 1033.7,719.0 1034.2,718.3 1034.7,717.6 1035.2,717.0 1035.7,716.3 1036.2,715.6 1036.7,714.9 1037.2,714.1 1037.7,713.3 1038.2,712.6 1038.7,711.8 1039.2,711.0 1039.7,710.2 1040.2,709.4 1040.7,708.6 1041.2,707.7 1041.7,706.9 1042.2,706.0 1042.7,705.1 1043.2,704.2 1043.7,703.2 1044.2,702.1 1044.7,701.0 1045.2,699.9 1045.7,698.6 1046.2,697.3 1046.7,696.0 1047.2,694.5 1047.7,693.0 1048.2,691.3 1048.7,689.4 1049.2,687.5 1049.7,685.3 1050.2,682.7 1050.7,679.8 1051.2,676.1 1051.7,670.8 1052.2,660.1 1052.7,649.1 1053.2,639.6 1053.7,631.8 1054.2,625.6 1054.7,620.4 1055.2,616.1 1055.7,612.6 1056.2,609.6 1056.7,606.9 1057.2,604.4 1057.7,602.1 1058.2,599.9 1058.7,597.9 1059.2,596.0 1059.7,594.3 1060.2,593.1 1060.7,592.3 1061.2,591.7 1061.7,591.4 1062.2,591.7 1062.7,592.5 1063.2,593.9 1063.7,595.9 1064.2,598.4 1064.7,601.4 1065.2,604.8 1065.7,608.7 1066.2,613.0 1066.7,617.5 1067.2,622.4 1067.7,627.4 1068.2,632.7 1068.7,638.1 1069.2,643.5 1069.7,649.0 1070.2,654.4 1070.7,659.8 1071.2,665.1 1071.7,670.3 1072.2,675.3 1072.7,680.1 1073.2,684.7 1073.7,689.1 1074.2,693.2 1074.7,697.1 1075.2,700.7 1075.7,704.1 1076.2,707.2 1076.7,710.0 1077.2,712.7 1077.7,715.0 1078.2,717.2 1078.7,719.1 1079.2,720.8 1079.7,722.4 1080.2,723.8 1080.7,725.0 1081.2,726.0 1081.7,726.9 1082.2,727.7 1082.7,728.4 1083.2,729.0 1083.7,729.6 1084.2,730.0 1084.7,730.4 1085.2,730.7 1085.7,730.9 1086.7,731.4 1087.7,731.6 1089.2,731.9 1095.2,732.1 1101.2,732.1 1107.2,732.1 1113.2,732.1 1119.2,732.0 1125.2,732.0 1131.2,732.0 1137.2,732.0 1143.2,731.9 1149.2,731.9 1155.2,731.9 1157.2,731.9" fill="none" stroke="#00e030" stroke-width="2.7" stroke-linejoin="round"/>
<path d="M193.7,736.3 199.7,736.3 205.7,736.2 211.7,736.2 217.7,736.2 223.7,736.2 229.7,736.1 235.7,736.1 241.7,736.1 247.7,736.0 253.7,736.0 259.7,736.0 265.7,736.0 271.7,735.9 277.7,735.9 283.7,735.7 285.7,735.4 287.7,735.1 289.7,734.8 291.2,734.5 292.7,734.2 294.2,733.9 295.7,733.6 297.2,733.2 298.2,732.9 299.2,732.6 300.2,732.3 301.2,732.0 302.2,731.6 303.2,731.3 304.2,730.9 305.2,730.4 306.2,730.0 307.2,729.5 307.7,729.2 308.2,728.8 308.7,728.5 309.2,728.1 309.7,727.7 310.2,727.3 310.7,726.9 311.2,726.5 311.7,726.0 312.2,725.5 312.7,725.0 313.2,724.5 313.7,723.9 314.2,723.4 314.7,722.8 315.2,722.2 315.7,721.6 316.2,721.0 316.7,720.3 317.2,719.6 317.7,718.9 318.2,718.1 318.7,717.3 319.2,716.4 319.7,715.5 320.2,714.5 320.7,713.5 321.2,712.5 321.7,711.4 322.2,710.2 322.7,709.1 323.2,707.8 323.7,706.5 324.2,705.2 324.7,703.9 325.2,702.4 325.7,700.8 326.2,699.0 326.7,697.1 327.2,695.1 327.7,693.0 328.2,690.7 328.7,688.4 329.2,686.0 329.7,683.5 330.2,681.0 330.7,678.5 331.2,676.0 331.7,673.3 332.2,670.6 332.7,667.7 333.2,664.8 333.7,661.7 334.2,658.6 334.7,655.4 335.2,652.2 335.7,648.9 336.2,645.6 336.7,642.2 337.2,638.8 337.7,635.2 338.2,631.6 338.7,627.9 339.2,624.1 339.7,620.2 340.2,616.4 340.7,612.5 341.2,608.6 341.7,604.7 342.2,600.8 342.7,596.8 343.2,592.7 343.7,588.7 344.2,584.6 344.7,580.6 345.2,576.6 345.7,572.8 346.2,569.0 346.7,565.2 347.2,561.5 347.7,557.8 348.2,554.1 348.7,550.5 349.2,547.0 349.7,543.6 350.2,540.2 350.7,537.1 351.2,534.0 351.7,530.9 352.2,527.9 352.7,525.0 353.2,522.4 353.7,520.2 354.2,518.3 354.7,516.6 355.2,515.3 355.7,514.4 356.2,513.7 356.7,513.2 358.7,513.7 359.2,514.4 359.7,515.2 360.2,516.2 360.7,517.3 361.2,518.7 361.7,520.2 362.2,521.8 362.7,523.6 363.2,525.6 363.7,527.7 364.2,530.0 364.7,532.4 365.2,535.0 365.7,537.7 366.2,540.5 366.7,543.4 367.2,546.4 367.7,549.6 368.2,552.8 368.7,556.1 369.2,559.5 369.7,563.0 370.2,566.6 370.7,570.2 371.2,573.8 371.7,577.5 372.2,581.3 372.7,585.1 373.2,588.9 373.7,592.7 374.2,596.6 374.7,600.4 375.2,604.3 375.7,608.1 376.2,612.0 376.7,615.8 377.2,619.6 377.7,623.4 378.2,627.1 378.7,630.8 379.2,634.4 379.7,638.0 380.2,641.6 380.7,645.1 381.2,648.5 381.7,651.9 382.2,655.2 382.7,658.4 383.2,661.6 383.7,664.7 384.2,667.7 384.7,670.7 385.2,673.5 385.7,676.3 386.2,679.0 386.7,681.6 387.2,684.2 387.7,686.7 388.2,689.0 388.7,691.3 389.2,693.6 389.7,695.7 390.2,697.8 390.7,699.8 391.2,701.7 391.7,703.5 392.2,705.3 392.7,706.9 393.2,708.5 393.7,710.1 394.2,711.6 394.7,713.0 395.2,714.3 395.7,715.6 396.2,716.8 396.7,717.9 397.2,719.0 397.7,720.1 398.2,721.0 398.7,722.0 399.2,722.8 399.7,723.7 400.2,724.5 400.7,725.2 401.2,725.9 401.7,726.6 402.2,727.2 402.7,727.8 403.2,728.3 403.7,728.8 404.2,729.3 404.7,729.7 405.2,730.1 405.7,730.5 406.2,730.9 406.7,731.2 407.2,731.6 407.7,731.8 408.2,732.1 408.7,732.4 409.7,732.8 410.7,733.2 411.7,733.5 412.7,733.8 414.2,734.2 415.7,734.4 418.7,734.7 422.7,734.4 424.2,734.1 425.7,733.8 426.7,733.5 427.7,733.2 428.7,732.9 429.7,732.6 430.7,732.3 431.7,731.9 432.7,731.6 433.7,731.2 434.7,730.9 435.7,730.5 436.7,730.1 437.7,729.7 438.7,729.2 439.7,728.8 440.2,728.5 440.7,728.2 441.2,727.9 441.7,727.6 442.2,727.3 442.7,727.0 443.2,726.7 443.7,726.4 444.2,726.0 444.7,725.7 445.2,725.3 445.7,724.9 446.2,724.5 446.7,724.1 447.2,723.7 447.7,723.3 448.2,722.9 448.7,722.4 449.2,722.0 449.7,721.5 450.2,721.1 450.7,720.6 451.2,720.1 451.7,719.6 452.2,719.1 452.7,718.6 453.2,718.1 453.7,717.6 454.2,717.0 454.7,716.5 455.2,715.9 455.7,715.3 456.2,714.8 456.7,714.2 457.2,713.6 457.7,713.0 458.2,712.4 458.7,711.8 459.2,711.1 459.7,710.5 460.2,709.8 460.7,709.0 461.2,708.2 461.7,707.3 462.2,706.5 462.7,705.5 463.2,704.5 463.7,703.5 464.2,702.5 464.7,701.4 465.2,700.3 465.7,699.1 466.2,697.9 466.7,696.7 467.2,695.5 467.7,694.2 468.2,692.9 468.7,691.6 469.2,690.2 469.7,688.8 470.2,687.3 470.7,685.7 471.2,684.1 471.7,682.4 472.2,680.6 472.7,678.8 473.2,677.0 473.7,675.1 474.2,673.2 474.7,671.2 475.2,669.2 475.7,667.1 476.2,665.1 476.7,663.0 477.2,660.9 477.7,658.7 478.2,656.6 478.7,654.4 479.2,652.3 479.7,650.1 480.2,647.8 480.7,645.5 481.2,643.2 481.7,640.9 482.2,638.4 482.7,635.9 483.2,633.4 483.7,630.8 484.2,628.1 484.7,625.3 485.2,622.4 485.7,619.5 486.2,616.5 486.7,613.3 487.2,609.9 487.7,606.4 488.2,602.7 488.7,598.9 489.2,594.9 489.7,590.8 490.2,586.6 490.7,582.3 491.2,578.0 491.7,573.4 492.2,568.4 492.7,563.2 493.2,557.8 493.7,552.6 494.2,547.4 494.7,542.6 495.2,538.1 495.7,533.9 496.2,529.9 496.7,526.1 497.2,522.3 497.7,518.7 498.2,515.0 498.7,511.3 499.2,507.5 499.7,503.6 500.2,499.5 500.7,495.2 501.2,490.7 501.7,486.2 502.2,481.6 502.7,477.2 503.2,472.9 503.7,468.9 504.2,465.2 504.7,461.9 505.2,458.7 505.7,455.7 506.2,452.9 506.7,450.4 507.2,448.2 507.7,446.1 508.2,444.2 508.7,442.6 509.2,441.5 509.7,440.7 510.2,440.0 510.7,439.5 512.2,440.4 512.7,441.8 513.2,443.7 513.7,446.2 514.2,449.2 514.7,452.6 515.2,456.6 515.7,461.0 516.2,465.9 516.7,471.2 517.2,476.9 517.7,482.9 518.2,489.2 518.7,495.9 519.2,502.8 519.7,509.9 520.2,517.2 520.7,524.7 521.2,532.3 521.7,540.0 522.2,547.7 522.7,555.5 523.2,563.3 523.7,571.1 524.2,578.8 524.7,586.4 525.2,593.9 525.7,601.3 526.2,608.5 526.7,615.6 527.2,622.5 527.7,629.2 528.2,635.6 528.7,641.9 529.2,647.9 529.7,653.7 530.2,659.3 530.7,664.5 531.2,669.6 531.7,674.4 532.2,678.9 532.7,683.3 533.2,687.3 533.7,691.1 534.2,694.7 534.7,698.1 535.2,701.2 535.7,704.2 536.2,706.9 536.7,709.4 537.2,711.8 537.7,713.9 538.2,715.9 538.7,717.8 539.2,719.4 539.7,721.0 540.2,722.4 540.7,723.7 541.2,724.9 541.7,725.9 542.2,726.9 542.7,727.7 543.2,728.5 543.7,729.2 544.2,729.9 544.7,730.4 545.2,730.9 545.7,731.4 546.2,731.8 546.7,732.1 547.2,732.5 547.7,732.7 548.7,733.2 549.7,733.6 550.7,733.8 552.2,734.1 554.7,734.4 560.7,734.6 566.7,734.6 572.7,734.5 578.7,734.5 584.7,734.5 590.7,734.5 596.7,734.4 602.7,734.4 608.7,734.4 614.7,734.4 620.7,734.3 626.7,734.3 632.7,734.3 638.7,734.2 644.7,734.2 650.7,734.2 656.7,734.2 662.7,734.1 668.7,734.1 674.7,734.1 680.7,734.1 686.7,734.0 692.7,734.0 698.7,734.0 704.7,733.9 710.7,733.9 716.7,733.9 722.7,733.9 728.7,733.8 734.7,733.8 740.7,733.8 746.7,733.7 752.7,733.7 758.7,733.7 764.7,733.7 770.7,733.6 776.7,733.6 782.7,733.6 788.7,733.6 794.7,733.5 800.7,733.5 806.7,733.5 812.7,733.4 818.7,733.4 824.7,733.4 830.7,733.3 836.7,733.3 842.7,733.3 848.7,733.2 854.7,733.1 860.7,733.0 866.7,732.9 872.7,732.7 878.7,732.4 884.2,732.2 889.2,731.9 894.2,731.7 899.2,731.4 904.2,731.1 909.7,730.9 915.7,730.7 921.7,730.6 927.7,730.6 933.7,730.7 939.7,730.8 945.7,731.1 951.2,731.3 956.7,731.6 962.7,731.9 968.7,732.1 974.7,732.2 980.7,732.4 986.7,732.5 992.7,732.5 998.7,732.5 1004.7,732.4 1006.7,732.1 1008.7,731.7 1009.7,731.4 1010.7,731.2 1011.7,730.8 1012.7,730.5 1013.7,730.1 1014.7,729.8 1015.7,729.4 1016.7,729.0 1017.7,728.6 1018.7,728.1 1019.7,727.7 1020.7,727.2 1021.7,726.7 1022.2,726.5 1022.7,726.2 1023.2,725.9 1023.7,725.6 1024.2,725.3 1024.7,724.9 1025.2,724.6 1025.7,724.2 1026.2,723.8 1026.7,723.4 1027.2,722.9 1027.7,722.5 1028.2,722.0 1028.7,721.5 1029.2,721.0 1029.7,720.4 1030.2,719.7 1030.7,718.8 1031.2,717.9 1031.7,716.9 1032.2,715.9 1032.7,714.8 1033.2,713.6 1033.7,712.5 1034.2,711.3 1034.7,710.1 1035.2,708.9 1035.7,707.6 1036.2,706.4 1036.7,705.2 1037.2,704.0 1037.7,702.7 1038.2,701.4 1038.7,700.0 1039.2,698.6 1039.7,697.2 1040.2,695.8 1040.7,694.3 1041.2,692.9 1041.7,691.4 1042.2,690.0 1042.7,688.5 1043.2,686.9 1043.7,685.2 1044.2,683.5 1044.7,681.7 1045.2,679.8 1045.7,677.8 1046.2,675.7 1046.7,673.5 1047.2,671.1 1047.7,668.6 1048.2,665.9 1048.7,663.0 1049.2,659.9 1049.7,656.5 1050.2,652.7 1050.7,648.5 1051.2,643.4 1051.7,637.3 1052.2,628.8 1052.7,610.2 1053.2,589.1 1053.7,571.1 1054.2,556.8 1054.7,545.5 1055.2,536.3 1055.7,528.8 1056.2,522.7 1056.7,517.5 1057.2,512.6 1057.7,508.1 1058.2,504.1 1058.7,500.3 1059.2,496.6 1059.7,493.7 1060.2,491.9 1060.7,490.5 1061.2,489.9 1062.2,491.0 1062.7,492.8 1063.2,495.3 1063.7,498.6 1064.2,502.6 1064.7,507.2 1065.2,512.4 1065.7,518.2 1066.2,524.6 1066.7,531.3 1067.2,538.5 1067.7,546.1 1068.2,553.9 1068.7,562.0 1069.2,570.2 1069.7,578.5 1070.2,586.8 1070.7,595.2 1071.2,603.4 1071.7,611.6 1072.2,619.6 1072.7,627.4 1073.2,635.0 1073.7,642.4 1074.2,649.4 1074.7,656.2 1075.2,662.6 1075.7,668.6 1076.2,674.4 1076.7,679.8 1077.2,684.8 1077.7,689.5 1078.2,693.9 1078.7,697.9 1079.2,701.6 1079.7,705.0 1080.2,708.0 1080.7,710.9 1081.2,713.4 1081.7,715.7 1082.2,717.8 1082.7,719.6 1083.2,721.2 1083.7,722.7 1084.2,724.0 1084.7,725.1 1085.2,726.1 1085.7,727.0 1086.2,727.8 1086.7,728.4 1087.2,729.0 1087.7,729.5 1088.2,729.9 1088.7,730.3 1089.2,730.6 1089.7,730.8 1090.7,731.3 1091.7,731.5 1093.2,731.8 1097.2,732.1 1103.2,732.1 1109.2,732.1 1115.2,732.1 1121.2,732.0 1127.2,732.0 1133.2,732.0 1139.2,731.9 1145.2,731.9 1151.2,731.9 1157.2,731.9 1157.2,731.9" fill="none" stroke="#000000" stroke-width="2.2" stroke-linejoin="round"/>
<path d="M193.7,736.3 199.7,736.3 205.7,736.2 211.7,736.2 217.7,736.2 223.7,736.2 229.7,736.1 235.7,736.1 241.7,736.1 247.7,736.0 253.7,736.0 259.7,736.0 265.7,736.0 271.7,735.9 277.7,735.9 283.7,735.6 285.7,735.3 287.2,735.0 288.7,734.7 290.2,734.4 291.7,734.0 293.2,733.6 294.2,733.4 295.2,733.1 296.2,732.8 297.2,732.5 298.2,732.2 299.2,731.8 300.2,731.4 301.2,731.0 302.2,730.6 303.2,730.2 304.2,729.7 304.7,729.4 305.2,729.2 305.7,728.9 306.2,728.6 306.7,728.4 307.2,728.1 307.7,727.8 308.2,727.5 308.7,727.1 309.2,726.7 309.7,726.3 310.2,725.9 310.7,725.4 311.2,724.9 311.7,724.4 312.2,723.9 312.7,723.3 313.2,722.7 313.7,722.1 314.2,721.4 314.7,720.8 315.2,720.1 315.7,719.4 316.2,718.7 316.7,717.9 317.2,717.1 317.7,716.3 318.2,715.5 318.7,714.7 319.2,713.8 319.7,712.9 320.2,711.9 320.7,710.8 321.2,709.7 321.7,708.6 322.2,707.4 322.7,706.1 323.2,704.8 323.7,703.4 324.2,702.0 324.7,700.5 325.2,698.9 325.7,697.4 326.2,695.7 326.7,694.0 327.2,692.2 327.7,690.4 328.2,688.4 328.7,686.2 329.2,683.8 329.7,681.2 330.2,678.5 330.7,675.6 331.2,672.7 331.7,669.6 332.2,666.5 332.7,663.3 333.2,660.0 333.7,656.8 334.2,653.5 334.7,650.0 335.2,646.5 335.7,642.8 336.2,639.0 336.7,635.1 337.2,631.0 337.7,626.9 338.2,622.7 338.7,618.5 339.2,614.2 339.7,609.8 340.2,605.4 340.7,600.9 341.2,596.3 341.7,591.6 342.2,586.7 342.7,581.8 343.2,576.8 343.7,571.8 344.2,566.7 344.7,561.7 345.2,556.6 345.7,551.5 346.2,546.4 346.7,541.1 347.2,535.8 347.7,530.5 348.2,525.3 348.7,520.1 349.2,514.9 349.7,509.9 350.2,505.0 350.7,500.2 351.2,495.3 351.7,490.5 352.2,485.7 352.7,481.0 353.2,476.4 353.7,471.9 354.2,467.5 354.7,463.3 355.2,459.3 355.7,455.3 356.2,451.3 356.7,447.5 357.2,443.8 357.7,440.6 358.2,437.8 358.7,435.4 359.2,433.3 359.7,431.5 360.2,430.4 360.7,429.5 361.2,428.8 361.7,428.4 362.7,428.7 363.2,429.2 363.7,429.8 364.2,430.7 364.7,431.8 365.2,433.0 365.7,434.5 366.2,436.1 366.7,438.0 367.2,440.0 367.7,442.2 368.2,444.6 368.7,447.2 369.2,449.9 369.7,452.8 370.2,455.8 370.7,459.0 371.2,462.3 371.7,465.8 372.2,469.4 372.7,473.2 373.2,477.0 373.7,481.0 374.2,485.1 374.7,489.2 375.2,493.5 375.7,497.8 376.2,502.3 376.7,506.8 377.2,511.3 377.7,515.9 378.2,520.6 378.7,525.3 379.2,530.0 379.7,534.8 380.2,539.5 380.7,544.3 381.2,549.1 381.7,553.9 382.2,558.7 382.7,563.5 383.2,568.3 383.7,573.0 384.2,577.7 384.7,582.4 385.2,587.0 385.7,591.6 386.2,596.1 386.7,600.6 387.2,605.0 387.7,609.4 388.2,613.7 388.7,617.9 389.2,622.1 389.7,626.2 390.2,630.2 390.7,634.1 391.2,638.0 391.7,641.7 392.2,645.4 392.7,649.0 393.2,652.5 393.7,655.9 394.2,659.2 394.7,662.4 395.2,665.6 395.7,668.6 396.2,671.6 396.7,674.5 397.2,677.2 397.7,679.9 398.2,682.5 398.7,685.0 399.2,687.4 399.7,689.8 400.2,692.0 400.7,694.2 401.2,696.3 401.7,698.3 402.2,700.2 402.7,702.0 403.2,703.8 403.7,705.5 404.2,707.1 404.7,708.7 405.2,710.2 405.7,711.6 406.2,712.9 406.7,714.2 407.2,715.4 407.7,716.6 408.2,717.7 408.7,718.8 409.2,719.8 409.7,720.7 410.2,721.6 410.7,722.5 411.2,723.3 411.7,724.0 412.2,724.8 412.7,725.5 413.2,726.1 413.7,726.7 414.2,727.3 414.7,727.8 415.2,728.3 415.7,728.8 416.2,729.2 416.7,729.7 417.2,730.1 417.7,730.4 418.2,730.8 418.7,731.1 419.2,731.4 419.7,731.7 420.2,731.9 421.2,732.4 422.2,732.8 423.2,733.0 425.2,733.3 429.7,733.0 431.2,732.6 432.2,732.4 433.2,732.1 434.2,731.7 435.2,731.4 436.2,731.0 437.2,730.6 438.2,730.2 439.2,729.7 440.2,729.3 441.2,728.8 442.2,728.3 442.7,728.1 443.2,727.8 443.7,727.5 444.2,727.2 444.7,726.9 445.2,726.5 445.7,726.2 446.2,725.8 446.7,725.5 447.2,725.1 447.7,724.7 448.2,724.3 448.7,723.8 449.2,723.4 449.7,723.0 450.2,722.5 450.7,722.0 451.2,721.5 451.7,721.0 452.2,720.5 452.7,720.0 453.2,719.5 453.7,718.9 454.2,718.4 454.7,717.8 455.2,717.2 455.7,716.6 456.2,716.0 456.7,715.4 457.2,714.8 457.7,714.2 458.2,713.5 458.7,712.9 459.2,712.2 459.7,711.5 460.2,710.8 460.7,710.1 461.2,709.4 461.7,708.7 462.2,707.9 462.7,707.2 463.2,706.4 463.7,705.7 464.2,704.8 464.7,704.0 465.2,703.0 465.7,702.0 466.2,701.0 466.7,699.8 467.2,698.7 467.7,697.5 468.2,696.2 468.7,694.9 469.2,693.6 469.7,692.2 470.2,690.8 470.7,689.4 471.2,687.9 471.7,686.4 472.2,684.8 472.7,683.2 473.2,681.6 473.7,679.9 474.2,678.1 474.7,676.3 475.2,674.3 475.7,672.3 476.2,670.2 476.7,668.1 477.2,665.9 477.7,663.6 478.2,661.3 478.7,658.9 479.2,656.5 479.7,654.1 480.2,651.6 480.7,649.0 481.2,646.5 481.7,643.9 482.2,641.3 482.7,638.7 483.2,636.1 483.7,633.4 484.2,630.7 484.7,628.0 485.2,625.2 485.7,622.4 486.2,619.5 486.7,616.5 487.2,613.5 487.7,610.3 488.2,607.1 488.7,603.8 489.2,600.4 489.7,596.9 490.2,593.3 490.7,589.5 491.2,585.6 491.7,581.4 492.2,577.0 492.7,572.5 493.2,567.7 493.7,562.9 494.2,557.9 494.7,552.7 495.2,547.5 495.7,542.1 496.2,536.3 496.7,530.1 497.2,523.7 497.7,517.3 498.2,510.9 498.7,504.8 499.2,499.1 499.7,493.8 500.2,488.8 500.7,484.1 501.2,479.4 501.7,474.9 502.2,470.5 502.7,466.0 503.2,461.5 503.7,456.8 504.2,452.0 504.7,446.9 505.2,441.6 505.7,436.1 506.2,430.6 506.7,425.1 507.2,419.8 507.7,414.7 508.2,410.0 508.7,405.7 509.2,401.7 509.7,397.9 510.2,394.4 510.7,391.1 511.2,388.2 511.7,385.6 512.2,383.2 512.7,381.0 513.2,379.3 513.7,378.2 514.2,377.2 514.7,376.4 515.2,375.9 516.2,376.5 516.7,377.6 517.2,379.4 517.7,381.8 518.2,384.8 518.7,388.4 519.2,392.5 519.7,397.2 520.2,402.3 520.7,408.0 521.2,414.1 521.7,420.7 522.2,427.6 522.7,435.0 523.2,442.6 523.7,450.6 524.2,458.8 524.7,467.2 525.2,475.9 525.7,484.6 526.2,493.6 526.7,502.5 527.2,511.6 527.7,520.7 528.2,529.7 528.7,538.7 529.2,547.7 529.7,556.5 530.2,565.2 530.7,573.8 531.2,582.2 531.7,590.4 532.2,598.4 532.7,606.2 533.2,613.8 533.7,621.1 534.2,628.1 534.7,634.9 535.2,641.4 535.7,647.7 536.2,653.6 536.7,659.3 537.2,664.7 537.7,669.9 538.2,674.7 538.7,679.3 539.2,683.6 539.7,687.7 540.2,691.5 540.7,695.1 541.2,698.5 541.7,701.6 542.2,704.5 542.7,707.2 543.2,709.7 543.7,712.0 544.2,714.1 544.7,716.1 545.2,717.9 545.7,719.5 546.2,721.1 546.7,722.4 547.2,723.7 547.7,724.9 548.2,725.9 548.7,726.8 549.2,727.7 549.7,728.5 550.2,729.2 550.7,729.8 551.2,730.3 551.7,730.9 552.2,731.3 552.7,731.7 553.2,732.1 553.7,732.4 554.2,732.7 555.2,733.1 556.2,733.5 557.2,733.8 558.7,734.1 561.2,734.3 567.2,734.5 573.2,734.5 579.2,734.5 585.2,734.5 591.2,734.5 597.2,734.4 603.2,734.4 609.2,734.4 615.2,734.4 621.2,734.3 627.2,734.3 633.2,734.3 639.2,734.2 645.2,734.2 651.2,734.2 657.2,734.2 663.2,734.1 669.2,734.1 675.2,734.1 681.2,734.0 687.2,734.0 693.2,734.0 699.2,734.0 705.2,733.9 711.2,733.9 717.2,733.9 723.2,733.9 729.2,733.8 735.2,733.8 741.2,733.8 747.2,733.7 753.2,733.7 759.2,733.7 765.2,733.7 771.2,733.6 777.2,733.6 783.2,733.6 789.2,733.6 795.2,733.5 801.2,733.5 807.2,733.5 813.2,733.4 819.2,733.4 825.2,733.4 831.2,733.3 837.2,733.3 843.2,733.3 849.2,733.2 855.2,733.1 861.2,733.0 867.2,732.9 873.2,732.7 879.2,732.4 884.7,732.2 889.7,731.9 894.7,731.6 899.7,731.4 904.7,731.1 910.7,730.8 916.7,730.6 922.7,730.6 928.7,730.6 934.7,730.7 940.7,730.9 946.7,731.1 952.2,731.4 957.7,731.6 963.7,731.9 969.7,732.1 975.7,732.3 981.7,732.4 987.7,732.5 993.7,732.5 999.7,732.5 1004.7,732.2 1006.2,731.9 1007.7,731.5 1008.7,731.2 1009.7,730.8 1010.7,730.3 1011.7,729.9 1012.2,729.6 1012.7,729.4 1013.2,729.1 1013.7,728.8 1014.2,728.6 1014.7,728.3 1015.2,728.0 1015.7,727.7 1016.2,727.4 1016.7,727.2 1017.2,726.9 1017.7,726.6 1018.2,726.3 1018.7,726.0 1019.2,725.7 1019.7,725.3 1020.2,725.0 1020.7,724.6 1021.2,724.3 1021.7,723.9 1022.2,723.5 1022.7,723.0 1023.2,722.6 1023.7,722.1 1024.2,721.6 1024.7,721.1 1025.2,720.6 1025.7,720.0 1026.2,719.4 1026.7,718.8 1027.2,718.1 1027.7,717.4 1028.2,716.7 1028.7,715.9 1029.2,715.0 1029.7,713.9 1030.2,712.6 1030.7,711.2 1031.2,709.7 1031.7,708.2 1032.2,706.5 1032.7,704.8 1033.2,703.0 1033.7,701.3 1034.2,699.5 1034.7,697.7 1035.2,695.9 1035.7,694.1 1036.2,692.2 1036.7,690.3 1037.2,688.3 1037.7,686.3 1038.2,684.2 1038.7,682.0 1039.2,679.9 1039.7,677.7 1040.2,675.6 1040.7,673.4 1041.2,671.2 1041.7,668.8 1042.2,666.4 1042.7,663.9 1043.2,661.2 1043.7,658.3 1044.2,655.3 1044.7,652.1 1045.2,648.7 1045.7,645.0 1046.2,641.1 1046.7,636.8 1047.2,632.2 1047.7,627.1 1048.2,621.5 1048.7,615.2 1049.2,607.6 1049.7,598.3 1050.2,585.8 1050.7,562.6 1051.2,536.7 1051.7,512.7 1052.2,493.6 1052.7,477.7 1053.2,464.7 1053.7,453.7 1054.2,444.6 1054.7,437.0 1055.2,430.3 1055.7,424.2 1056.2,418.5 1056.7,413.2 1057.2,408.3 1057.7,403.7 1058.2,399.2 1058.7,395.3 1059.2,392.7 1059.7,390.9 1060.2,389.5 1060.7,388.8 1061.2,389.1 1061.7,389.8 1062.2,390.9 1062.7,392.1 1063.2,393.4 1063.7,395.2 1064.2,397.7 1064.7,400.5 1065.2,403.6 1065.7,406.7 1066.2,410.0 1066.7,413.4 1067.2,417.2 1067.7,421.3 1068.2,425.6 1068.7,430.1 1069.2,435.0 1069.7,440.4 1070.2,446.5 1070.7,453.7 1071.2,462.3 1071.7,472.6 1072.2,485.5 1072.7,503.0 1073.2,523.4 1073.7,548.1 1074.2,577.5 1074.7,607.5 1075.2,633.2 1075.7,654.2 1076.2,667.9 1076.7,677.8 1077.2,685.9 1077.7,692.6 1078.2,698.1 1078.7,703.2 1079.2,707.8 1079.7,711.8 1080.2,715.1 1080.7,717.7 1081.2,720.0 1081.7,721.9 1082.2,723.7 1082.7,725.2 1083.2,726.4 1083.7,727.5 1084.2,728.6 1084.7,729.5 1085.2,730.4 1085.7,731.1 1086.2,731.7 1086.7,732.1 1092.7,732.2 1098.7,732.1 1104.7,732.1 1110.7,732.1 1116.7,732.0 1122.7,732.0 1128.7,732.0 1134.7,732.0 1140.7,731.9 1146.7,731.9 1152.7,731.9 1157.2,731.9" fill="none" stroke="#ff0000" stroke-width="2.2" stroke-linejoin="round"/>
<path d="M193.7,736.3 199.7,736.3 205.7,736.2 211.7,736.2 217.7,736.2 223.7,736.2 229.7,736.1 235.7,736.1 241.7,736.1 247.7,736.0 253.7,736.0 259.7,736.0 265.7,736.0 271.7,735.9 277.7,735.9 280.7,735.6 282.7,735.3 284.2,735.0 285.7,734.7 287.2,734.3 288.7,733.9 289.7,733.7 290.7,733.4 291.7,733.1 292.7,732.8 293.7,732.5 294.7,732.2 295.7,731.8 296.7,731.5 297.7,731.1 298.7,730.6 299.7,730.2 300.7,729.7 301.7,729.2 302.2,729.0 302.7,728.7 303.2,728.5 303.7,728.2 304.2,727.9 304.7,727.6 305.2,727.3 305.7,727.0 306.2,726.7 306.7,726.3 307.2,726.0 307.7,725.6 308.2,725.2 308.7,724.8 309.2,724.3 309.7,723.8 310.2,723.3 310.7,722.7 311.2,722.1 311.7,721.5 312.2,720.9 312.7,720.2 313.2,719.5 313.7,718.8 314.2,718.1 314.7,717.3 315.2,716.6 315.7,715.7 316.2,714.9 316.7,714.1 317.2,713.2 317.7,712.3 318.2,711.4 318.7,710.5 319.2,709.5 319.7,708.5 320.2,707.3 320.7,706.2 321.2,705.0 321.7,703.7 322.2,702.4 322.7,701.0 323.2,699.5 323.7,698.0 324.2,696.5 324.7,694.9 325.2,693.2 325.7,691.4 326.2,689.7 326.7,687.8 327.2,685.9 327.7,683.9 328.2,681.9 328.7,679.7 329.2,677.3 329.7,674.7 330.2,671.9 330.7,668.9 331.2,665.8 331.7,662.6 332.2,659.3 332.7,655.8 333.2,652.3 333.7,648.7 334.2,645.1 334.7,641.5 335.2,637.8 335.7,634.0 336.2,630.1 336.7,626.0 337.2,621.8 337.7,617.5 338.2,613.0 338.7,608.5 339.2,603.9 339.7,599.2 340.2,594.4 340.7,589.6 341.2,584.7 341.7,579.9 342.2,574.9 342.7,569.7 343.2,564.4 343.7,559.0 344.2,553.6 344.7,548.0 345.2,542.5 345.7,536.8 346.2,531.2 346.7,525.6 347.2,520.0 347.7,514.3 348.2,508.5 348.7,502.6 349.2,496.7 349.7,490.8 350.2,485.0 350.7,479.2 351.2,473.5 351.7,467.8 352.2,462.4 352.7,456.9 353.2,451.5 353.7,446.1 354.2,440.8 354.7,435.5 355.2,430.3 355.7,425.2 356.2,420.2 356.7,415.4 357.2,410.7 357.7,406.2 358.2,401.7 358.7,397.3 359.2,392.9 359.7,388.8 360.2,385.0 360.7,381.7 361.2,378.9 361.7,376.3 362.2,374.1 362.7,372.4 363.2,371.2 363.7,370.2 364.2,369.4 364.7,369.1 365.7,369.4 366.2,369.8 366.7,370.5 367.2,371.4 367.7,372.5 368.2,373.8 368.7,375.3 369.2,377.0 369.7,378.9 370.2,380.9 370.7,383.2 371.2,385.6 371.7,388.3 372.2,391.1 372.7,394.0 373.2,397.2 373.7,400.5 374.2,403.9 374.7,407.5 375.2,411.3 375.7,415.2 376.2,419.2 376.7,423.3 377.2,427.6 377.7,432.0 378.2,436.5 378.7,441.1 379.2,445.7 379.7,450.5 380.2,455.4 380.7,460.3 381.2,465.3 381.7,470.3 382.2,475.4 382.7,480.6 383.2,485.8 383.7,491.0 384.2,496.2 384.7,501.5 385.2,506.8 385.7,512.1 386.2,517.4 386.7,522.6 387.2,527.9 387.7,533.2 388.2,538.4 388.7,543.6 389.2,548.8 389.7,553.9 390.2,559.0 390.7,564.1 391.2,569.1 391.7,574.0 392.2,578.9 392.7,583.8 393.2,588.5 393.7,593.2 394.2,597.8 394.7,602.4 395.2,606.8 395.7,611.2 396.2,615.5 396.7,619.8 397.2,623.9 397.7,627.9 398.2,631.9 398.7,635.8 399.2,639.5 399.7,643.2 400.2,646.8 400.7,650.3 401.2,653.7 401.7,657.1 402.2,660.3 402.7,663.4 403.2,666.5 403.7,669.4 404.2,672.3 404.7,675.0 405.2,677.7 405.7,680.3 406.2,682.8 406.7,685.2 407.2,687.6 407.7,689.8 408.2,692.0 408.7,694.1 409.2,696.1 409.7,698.0 410.2,699.9 410.7,701.7 411.2,703.4 411.7,705.0 412.2,706.6 412.7,708.1 413.2,709.5 413.7,710.9 414.2,712.2 414.7,713.5 415.2,714.7 415.7,715.8 416.2,716.9 416.7,718.0 417.2,719.0 417.7,719.9 418.2,720.8 418.7,721.7 419.2,722.5 419.7,723.2 420.2,724.0 420.7,724.6 421.2,725.3 421.7,725.9 422.2,726.5 422.7,727.0 423.2,727.6 423.7,728.1 424.2,728.5 424.7,728.9 425.2,729.3 425.7,729.7 426.2,730.0 426.7,730.2 427.7,730.7 428.7,731.0 430.2,731.3 435.2,731.0 436.2,730.8 437.2,730.5 438.2,730.1 439.2,729.7 440.2,729.3 441.2,728.9 442.2,728.4 443.2,727.9 444.2,727.4 444.7,727.2 445.2,726.9 445.7,726.6 446.2,726.2 446.7,725.9 447.2,725.6 447.7,725.2 448.2,724.8 448.7,724.4 449.2,724.0 449.7,723.5 450.2,723.1 450.7,722.6 451.2,722.1 451.7,721.6 452.2,721.1 452.7,720.6 453.2,720.0 453.7,719.5 454.2,718.9 454.7,718.3 455.2,717.7 455.7,717.1 456.2,716.4 456.7,715.8 457.2,715.1 457.7,714.4 458.2,713.8 458.7,713.0 459.2,712.3 459.7,711.6 460.2,710.8 460.7,710.1 461.2,709.3 461.7,708.5 462.2,707.7 462.7,706.9 463.2,706.1 463.7,705.2 464.2,704.4 464.7,703.5 465.2,702.6 465.7,701.7 466.2,700.8 466.7,699.9 467.2,698.9 467.7,697.9 468.2,696.8 468.7,695.6 469.2,694.3 469.7,693.0 470.2,691.6 470.7,690.2 471.2,688.7 471.7,687.2 472.2,685.6 472.7,683.9 473.2,682.2 473.7,680.5 474.2,678.7 474.7,676.9 475.2,675.1 475.7,673.2 476.2,671.2 476.7,669.2 477.2,667.1 477.7,664.9 478.2,662.6 478.7,660.2 479.2,657.7 479.7,655.2 480.2,652.5 480.7,649.8 481.2,647.0 481.7,644.2 482.2,641.3 482.7,638.3 483.2,635.3 483.7,632.3 484.2,629.2 484.7,626.1 485.2,623.0 485.7,619.8 486.2,616.7 486.7,613.5 487.2,610.3 487.7,607.0 488.2,603.6 488.7,600.2 489.2,596.7 489.7,593.2 490.2,589.5 490.7,585.8 491.2,582.0 491.7,578.0 492.2,573.9 492.7,569.7 493.2,565.4 493.7,560.9 494.2,556.3 494.7,551.3 495.2,546.2 495.7,540.7 496.2,535.1 496.7,529.3 497.2,523.3 497.7,517.1 498.2,510.8 498.7,504.5 499.2,497.7 499.7,490.4 500.2,482.7 500.7,474.9 501.2,467.1 501.7,459.6 502.2,452.4 502.7,445.9 503.2,439.8 503.7,433.9 504.2,428.3 504.7,422.8 505.2,417.4 505.7,412.0 506.2,406.5 506.7,401.0 507.2,395.2 507.7,389.3 508.2,382.9 508.7,376.4 509.2,369.7 509.7,363.0 510.2,356.5 510.7,350.2 511.2,344.3 511.7,338.9 512.2,334.0 512.7,329.3 513.2,324.9 513.7,320.8 514.2,317.1 514.7,313.9 515.2,310.9 515.7,308.1 516.2,305.7 516.7,304.1 517.2,302.9 517.7,301.9 518.2,301.1 518.7,300.8 519.2,301.2 519.7,302.2 520.2,303.9 520.7,306.3 521.2,309.3 521.7,312.9 522.2,317.2 522.7,322.1 523.2,327.6 523.7,333.7 524.2,340.2 524.7,347.3 525.2,354.9 525.7,362.9 526.2,371.3 526.7,380.0 527.2,389.1 527.7,398.5 528.2,408.2 528.7,418.0 529.2,428.1 529.7,438.3 530.2,448.6 530.7,459.0 531.2,469.4 531.7,479.9 532.2,490.3 532.7,500.6 533.2,510.9 533.7,521.1 534.2,531.1 534.7,540.9 535.2,550.6 535.7,560.1 536.2,569.3 536.7,578.3 537.2,587.0 537.7,595.5 538.2,603.7 538.7,611.6 539.2,619.2 539.7,626.5 540.2,633.5 540.7,640.2 541.2,646.6 541.7,652.7 542.2,658.5 542.7,664.0 543.2,669.2 543.7,674.1 544.2,678.7 544.7,683.1 545.2,687.1 545.7,691.0 546.2,694.6 546.7,697.9 547.2,701.1 547.7,704.0 548.2,706.7 548.7,709.2 549.2,711.5 549.7,713.6 550.2,715.6 550.7,717.4 551.2,719.1 551.7,720.6 552.2,722.0 552.7,723.3 553.2,724.4 553.7,725.5 554.2,726.4 554.7,727.3 555.2,728.1 555.7,728.8 556.2,729.4 556.7,730.0 557.2,730.5 557.7,731.0 558.2,731.4 558.7,731.8 559.2,732.1 559.7,732.4 560.2,732.7 561.2,733.1 562.2,733.5 563.2,733.7 564.7,734.0 567.2,734.3 573.2,734.5 579.2,734.5 585.2,734.5 591.2,734.5 597.2,734.4 603.2,734.4 609.2,734.4 615.2,734.4 621.2,734.3 627.2,734.3 633.2,734.3 639.2,734.2 645.2,734.2 651.2,734.2 657.2,734.2 663.2,734.1 669.2,734.1 675.2,734.1 681.2,734.0 687.2,734.0 693.2,734.0 699.2,734.0 705.2,733.9 711.2,733.9 717.2,733.9 723.2,733.9 729.2,733.8 735.2,733.8 741.2,733.8 747.2,733.7 753.2,733.7 759.2,733.7 765.2,733.7 771.2,733.6 777.2,733.6 783.2,733.6 789.2,733.6 795.2,733.5 801.2,733.5 807.2,733.5 813.2,733.4 819.2,733.4 825.2,733.4 831.2,733.3 837.2,733.3 843.2,733.3 849.2,733.2 855.2,733.1 861.2,733.0 867.2,732.9 873.2,732.7 879.2,732.4 884.7,732.2 889.7,731.9 894.7,731.6 899.7,731.4 904.7,731.1 910.7,730.8 916.7,730.6 922.7,730.6 928.7,730.6 934.7,730.7 940.7,730.9 946.7,731.1 952.2,731.4 957.7,731.6 963.7,731.9 969.7,732.1 975.7,732.3 981.7,732.4 987.7,732.5 993.7,732.5 999.7,732.5 1002.2,732.2 1003.7,731.8 1005.2,731.4 1006.2,731.0 1007.2,730.5 1008.2,730.0 1008.7,729.7 1009.2,729.4 1009.7,729.2 1010.2,728.8 1010.7,728.5 1011.2,728.2 1011.7,727.9 1012.2,727.6 1012.7,727.2 1013.2,726.9 1013.7,726.6 1014.2,726.2 1014.7,725.9 1015.2,725.5 1015.7,725.2 1016.2,724.8 1016.7,724.4 1017.2,724.0 1017.7,723.6 1018.2,723.2 1018.7,722.8 1019.2,722.3 1019.7,721.9 1020.2,721.4 1020.7,720.9 1021.2,720.3 1021.7,719.7 1022.2,719.1 1022.7,718.5 1023.2,717.8 1023.7,717.1 1024.2,716.4 1024.7,715.6 1025.2,714.8 1025.7,713.9 1026.2,713.0 1026.7,712.1 1027.2,711.0 1027.7,709.6 1028.2,708.0 1028.7,706.1 1029.2,704.2 1029.7,702.0 1030.2,699.8 1030.7,697.4 1031.2,695.0 1031.7,692.5 1032.2,690.0 1032.7,687.5 1033.2,685.0 1033.7,682.5 1034.2,679.8 1034.7,676.9 1035.2,674.0 1035.7,670.9 1036.2,667.8 1036.7,664.8 1037.2,661.7 1037.7,658.6 1038.2,655.4 1038.7,652.0 1039.2,648.4 1039.7,644.5 1040.2,640.2 1040.7,635.6 1041.2,630.6 1041.7,625.1 1042.2,619.0 1042.7,612.1 1043.2,604.3 1043.7,595.3 1044.2,584.6 1044.7,571.1 1045.2,554.8 1045.7,534.0 1046.2,510.8 1046.7,487.6 1047.2,465.7 1047.7,447.5 1048.2,431.5 1048.7,417.6 1049.2,405.7 1049.7,395.1 1050.2,385.7 1050.7,377.5 1051.2,370.4 1051.7,364.1 1052.2,358.2 1052.7,352.7 1053.2,347.4 1053.7,342.4 1054.2,337.7 1054.7,333.3 1055.2,329.1 1055.7,325.0 1056.2,320.9 1056.7,317.1 1057.2,314.1 1057.7,311.9 1058.2,310.2 1058.7,308.7 1059.2,307.7 1059.7,307.1 1060.7,307.8 1061.2,308.7 1061.7,309.8 1062.2,311.1 1062.7,312.5 1063.2,314.3 1063.7,316.7 1064.2,319.5 1064.7,322.6 1065.2,325.9 1065.7,329.2 1066.2,332.6 1066.7,336.1 1067.2,340.0 1067.7,344.1 1068.2,348.4 1068.7,353.0 1069.2,357.8 1069.7,362.8 1070.2,368.3 1070.7,374.4 1071.2,381.2 1071.7,389.1 1072.2,398.2 1072.7,409.0 1073.2,421.7 1073.7,438.5 1074.2,458.5 1074.7,481.2 1075.2,507.9 1075.7,539.0 1076.2,570.8 1076.7,599.4 1077.2,623.7 1077.7,642.3 1078.2,655.3 1078.7,665.4 1079.2,673.8 1079.7,681.1 1080.2,687.3 1080.7,692.8 1081.2,697.9 1081.7,702.6 1082.2,706.8 1082.7,710.4 1083.2,713.3 1083.7,715.8 1084.2,718.0 1084.7,720.0 1085.2,721.8 1085.7,723.3 1086.2,724.7 1086.7,725.9 1087.2,727.0 1087.7,728.1 1088.2,729.1 1088.7,730.0 1089.2,730.8 1089.7,731.4 1090.2,731.9 1090.7,732.2 1096.7,732.1 1102.7,732.1 1108.7,732.1 1114.7,732.1 1120.7,732.0 1126.7,732.0 1132.7,732.0 1138.7,731.9 1144.7,731.9 1150.7,731.9 1156.7,731.9 1157.2,731.9" fill="none" stroke="#0000ff" stroke-width="2.2" stroke-linejoin="round"/>
<path d="M193.7,736.3 199.7,736.3 205.7,736.2 211.7,736.2 217.7,736.2 223.7,736.2 229.7,736.1 235.7,736.1 241.7,736.1 247.7,736.0 253.7,736.0 259.7,736.0 262.2,735.7 264.2,735.4 266.2,735.1 267.7,734.8 269.2,734.5 270.7,734.2 272.2,733.9 273.7,733.5 275.2,733.2 276.7,732.8 277.7,732.6 278.7,732.3 279.7,732.0 280.7,731.8 281.7,731.5 282.7,731.2 283.7,730.9 284.7,730.5 285.7,730.2 286.7,729.8 287.7,729.5 288.7,729.1 289.7,728.7 290.7,728.3 291.7,727.8 292.7,727.4 293.7,726.9 294.7,726.4 295.2,726.2 295.7,725.9 296.2,725.6 296.7,725.4 297.2,725.1 297.7,724.8 298.2,724.5 298.7,724.2 299.2,724.0 299.7,723.7 300.2,723.3 300.7,723.0 301.2,722.6 301.7,722.3 302.2,721.9 302.7,721.4 303.2,721.0 303.7,720.5 304.2,720.1 304.7,719.6 305.2,719.1 305.7,718.5 306.2,718.0 306.7,717.4 307.2,716.9 307.7,716.3 308.2,715.7 308.7,715.0 309.2,714.4 309.7,713.8 310.2,713.1 310.7,712.4 311.2,711.7 311.7,711.0 312.2,710.3 312.7,709.5 313.2,708.8 313.7,708.0 314.2,707.3 314.7,706.5 315.2,705.7 315.7,704.9 316.2,704.0 316.7,703.1 317.2,702.2 317.7,701.3 318.2,700.3 318.7,699.3 319.2,698.2 319.7,697.1 320.2,696.0 320.7,694.9 321.2,693.7 321.7,692.4 322.2,691.2 322.7,689.9 323.2,688.5 323.7,687.2 324.2,685.7 324.7,684.3 325.2,682.8 325.7,681.3 326.2,679.7 326.7,678.1 327.2,676.5 327.7,674.9 328.2,673.1 328.7,671.4 329.2,669.6 329.7,667.8 330.2,665.9 330.7,663.8 331.2,661.6 331.7,659.2 332.2,656.8 332.7,654.2 333.2,651.6 333.7,648.8 334.2,646.0 334.7,643.1 335.2,640.1 335.7,637.1 336.2,634.0 336.7,630.9 337.2,627.7 337.7,624.5 338.2,621.2 338.7,618.0 339.2,614.7 339.7,611.4 340.2,608.0 340.7,604.5 341.2,601.0 341.7,597.3 342.2,593.6 342.7,589.8 343.2,585.9 343.7,581.9 344.2,577.9 344.7,573.8 345.2,569.7 345.7,565.5 346.2,561.3 346.7,557.1 347.2,552.8 347.7,548.4 348.2,544.1 348.7,539.7 349.2,535.3 349.7,530.8 350.2,526.2 350.7,521.5 351.2,516.7 351.7,511.9 352.2,507.0 352.7,502.1 353.2,497.1 353.7,492.1 354.2,487.1 354.7,482.1 355.2,477.1 355.7,472.1 356.2,467.0 356.7,462.0 357.2,456.9 357.7,451.8 358.2,446.6 358.7,441.4 359.2,436.1 359.7,430.9 360.2,425.6 360.7,420.4 361.2,415.2 361.7,410.0 362.2,404.9 362.7,399.9 363.2,395.0 363.7,390.2 364.2,385.3 364.7,380.5 365.2,375.7 365.7,370.8 366.2,366.1 366.7,361.3 367.2,356.6 367.7,352.0 368.2,347.4 368.7,342.9 369.2,338.5 369.7,334.1 370.2,329.8 370.7,325.7 371.2,321.7 371.7,317.7 372.2,313.7 372.7,309.8 373.2,305.9 373.7,302.1 374.2,298.4 374.7,295.0 375.2,291.9 375.7,289.0 376.2,286.5 376.7,284.2 377.2,282.0 377.7,280.0 378.2,278.4 378.7,277.1 379.2,276.2 379.7,275.3 380.2,274.5 380.7,273.9 381.2,273.6 382.2,273.9 382.7,274.4 383.2,275.2 383.7,276.3 384.2,277.6 384.7,279.2 385.2,281.0 385.7,283.1 386.2,285.4 386.7,288.0 387.2,290.8 387.7,293.8 388.2,297.1 388.7,300.6 389.2,304.3 389.7,308.2 390.2,312.3 390.7,316.7 391.2,321.2 391.7,325.9 392.2,330.7 392.7,335.8 393.2,341.0 393.7,346.3 394.2,351.8 394.7,357.4 395.2,363.2 395.7,369.1 396.2,375.1 396.7,381.1 397.2,387.3 397.7,393.6 398.2,400.0 398.7,406.4 399.2,412.9 399.7,419.4 400.2,426.0 400.7,432.6 401.2,439.2 401.7,445.9 402.2,452.5 402.7,459.2 403.2,465.9 403.7,472.5 404.2,479.1 404.7,485.7 405.2,492.3 405.7,498.9 406.2,505.3 406.7,511.8 407.2,518.2 407.7,524.5 408.2,530.7 408.7,536.9 409.2,543.0 409.7,549.0 410.2,554.9 410.7,560.8 411.2,566.5 411.7,572.2 412.2,577.7 412.7,583.2 413.2,588.5 413.7,593.8 414.2,598.9 414.7,603.9 415.2,608.8 415.7,613.6 416.2,618.3 416.7,622.8 417.2,627.3 417.7,631.6 418.2,635.8 418.7,639.9 419.2,643.8 419.7,647.7 420.2,651.4 420.7,655.1 421.2,658.6 421.7,662.0 422.2,665.3 422.7,668.5 423.2,671.5 423.7,674.5 424.2,677.4 424.7,680.1 425.2,682.8 425.7,685.3 426.2,687.8 426.7,690.1 427.2,692.4 427.7,694.6 428.2,696.7 428.7,698.6 429.2,700.5 429.7,702.3 430.2,704.0 430.7,705.6 431.2,707.1 431.7,708.5 432.2,709.8 432.7,711.1 433.2,712.3 433.7,713.4 434.2,714.4 434.7,715.3 435.2,716.2 435.7,717.0 436.2,717.8 436.7,718.5 437.2,719.1 437.7,719.7 438.2,720.2 438.7,720.7 439.2,721.1 439.7,721.5 440.2,721.8 440.7,722.1 441.7,722.6 442.7,722.9 448.2,722.5 449.2,722.2 450.2,721.7 450.7,721.5 451.2,721.1 451.7,720.8 452.2,720.4 452.7,720.0 453.2,719.6 453.7,719.1 454.2,718.6 454.7,718.1 455.2,717.6 455.7,717.0 456.2,716.4 456.7,715.8 457.2,715.2 457.7,714.5 458.2,713.8 458.7,713.1 459.2,712.4 459.7,711.6 460.2,710.8 460.7,710.0 461.2,709.2 461.7,708.3 462.2,707.5 462.7,706.6 463.2,705.7 463.7,704.8 464.2,703.8 464.7,702.8 465.2,701.9 465.7,700.8 466.2,699.8 466.7,698.8 467.2,697.7 467.7,696.6 468.2,695.5 468.7,694.4 469.2,693.3 469.7,692.1 470.2,691.0 470.7,689.8 471.2,688.6 471.7,687.4 472.2,686.1 472.7,684.7 473.2,683.3 473.7,681.7 474.2,680.1 474.7,678.4 475.2,676.6 475.7,674.7 476.2,672.7 476.7,670.7 477.2,668.6 477.7,666.4 478.2,664.2 478.7,661.9 479.2,659.5 479.7,657.1 480.2,654.7 480.7,652.2 481.2,649.7 481.7,647.1 482.2,644.3 482.7,641.4 483.2,638.4 483.7,635.3 484.2,632.1 484.7,628.7 485.2,625.3 485.7,621.7 486.2,618.1 486.7,614.4 487.2,610.5 487.7,606.7 488.2,602.7 488.7,598.7 489.2,594.7 489.7,590.6 490.2,586.4 490.7,582.3 491.2,578.1 491.7,573.9 492.2,569.6 492.7,565.3 493.2,560.9 493.7,556.5 494.2,551.9 494.7,547.3 495.2,542.6 495.7,537.7 496.2,532.7 496.7,527.6 497.2,522.4 497.7,517.0 498.2,511.4 498.7,505.7 499.2,499.8 499.7,493.7 500.2,487.2 500.7,480.3 501.2,473.2 501.7,465.8 502.2,458.1 502.7,450.2 503.2,442.1 503.7,433.8 504.2,425.3 504.7,416.6 505.2,407.1 505.7,397.1 506.2,386.7 506.7,376.3 507.2,366.1 507.7,356.3 508.2,347.1 508.7,338.7 509.2,330.7 509.7,323.0 510.2,315.6 510.7,308.3 511.2,301.1 511.7,293.9 512.2,286.7 512.7,279.2 513.2,271.5 513.7,263.4 514.2,254.9 514.7,246.1 515.2,237.2 515.7,228.4 516.2,219.7 516.7,211.4 517.2,203.6 517.7,196.5 518.2,190.0 518.7,183.8 519.2,177.9 519.7,172.5 520.2,167.6 520.7,163.2 521.2,159.2 521.7,155.5 522.2,152.3 522.7,150.0 523.2,148.4 523.7,146.9 524.2,145.9 524.7,145.4 525.7,146.2 526.2,147.4 526.7,149.2 527.2,151.5 527.7,154.4 528.2,157.7 528.7,161.6 529.2,165.9 529.7,170.7 530.2,176.0 530.7,181.8 531.2,188.0 531.7,194.7 532.2,201.7 532.7,209.1 533.2,216.9 533.7,225.1 534.2,233.6 534.7,242.4 535.2,251.5 535.7,260.8 536.2,270.4 536.7,280.3 537.2,290.3 537.7,300.5 538.2,310.9 538.7,321.3 539.2,331.9 539.7,342.6 540.2,353.4 540.7,364.2 541.2,375.0 541.7,385.8 542.2,396.7 542.7,407.4 543.2,418.2 543.7,428.8 544.2,439.4 544.7,449.9 545.2,460.2 545.7,470.4 546.2,480.5 546.7,490.4 547.2,500.1 547.7,509.7 548.2,519.0 548.7,528.2 549.2,537.2 549.7,545.9 550.2,554.4 550.7,562.7 551.2,570.8 551.7,578.6 552.2,586.2 552.7,593.5 553.2,600.6 553.7,607.5 554.2,614.1 554.7,620.5 555.2,626.7 555.7,632.6 556.2,638.2 556.7,643.7 557.2,648.9 557.7,653.9 558.2,658.6 558.7,663.2 559.2,667.5 559.7,671.7 560.2,675.6 560.7,679.3 561.2,682.9 561.7,686.2 562.2,689.4 562.7,692.4 563.2,695.3 563.7,698.0 564.2,700.5 564.7,702.9 565.2,705.2 565.7,707.3 566.2,709.3 566.7,711.1 567.2,712.9 567.7,714.5 568.2,716.0 568.7,717.5 569.2,718.8 569.7,720.0 570.2,721.2 570.7,722.3 571.2,723.3 571.7,724.2 572.2,725.0 572.7,725.8 573.2,726.6 573.7,727.2 574.2,727.9 574.7,728.5 575.2,729.0 575.7,729.5 576.2,729.9 576.7,730.3 577.2,730.7 577.7,731.1 578.2,731.4 578.7,731.7 579.2,731.9 580.2,732.4 581.2,732.8 582.2,733.1 583.2,733.4 584.7,733.7 586.7,734.0 590.2,734.2 596.2,734.4 602.2,734.4 608.2,734.4 614.2,734.4 620.2,734.3 626.2,734.3 632.2,734.3 638.2,734.2 644.2,734.2 650.2,734.2 656.2,734.2 662.2,734.1 668.2,734.1 674.2,734.1 680.2,734.1 686.2,734.0 692.2,734.0 698.2,734.0 704.2,733.9 710.2,733.9 716.2,733.9 722.2,733.9 728.2,733.8 734.2,733.8 740.2,733.8 746.2,733.7 752.2,733.7 758.2,733.7 764.2,733.7 770.2,733.6 776.2,733.6 782.2,733.6 788.2,733.6 794.2,733.5 800.2,733.5 806.2,733.5 812.2,733.4 818.2,733.4 824.2,733.4 830.2,733.4 836.2,733.3 842.2,733.3 848.2,733.2 854.2,733.1 860.2,733.0 866.2,732.9 872.2,732.7 878.2,732.5 883.7,732.2 888.7,732.0 893.7,731.7 898.2,731.4 903.2,731.2 908.7,730.9 914.7,730.7 920.7,730.6 926.7,730.6 932.7,730.6 938.7,730.8 944.7,731.0 950.7,731.3 956.2,731.6 962.2,731.8 968.2,732.1 974.2,732.2 980.2,732.4 986.2,732.4 987.7,732.2 988.7,731.9 989.7,731.6 990.7,731.3 991.7,731.1 992.7,730.6 993.2,730.4 993.7,730.1 994.2,729.8 994.7,729.6 995.2,729.3 995.7,729.0 996.2,728.6 996.7,728.3 997.2,728.0 997.7,727.6 998.2,727.3 998.7,726.9 999.2,726.6 999.7,726.2 1000.2,725.8 1000.7,725.4 1001.2,725.0 1001.7,724.6 1002.2,724.2 1002.7,723.8 1003.2,723.4 1003.7,723.0 1004.2,722.6 1004.7,722.2 1005.2,721.8 1005.7,721.3 1006.2,720.9 1006.7,720.5 1007.2,720.0 1007.7,719.5 1008.2,719.0 1008.7,718.5 1009.2,718.0 1009.7,717.4 1010.2,716.8 1010.7,716.2 1011.2,715.6 1011.7,714.9 1012.2,714.3 1012.7,713.6 1013.2,712.8 1013.7,712.0 1014.2,711.2 1014.7,710.4 1015.2,709.5 1015.7,708.6 1016.2,707.6 1016.7,706.6 1017.2,705.6 1017.7,704.5 1018.2,703.3 1018.7,702.0 1019.2,700.4 1019.7,698.5 1020.2,696.4 1020.7,694.1 1021.2,691.6 1021.7,688.9 1022.2,686.1 1022.7,683.2 1023.2,680.2 1023.7,677.1 1024.2,673.9 1024.7,670.7 1025.2,667.6 1025.7,664.4 1026.2,661.2 1026.7,657.7 1027.2,654.0 1027.7,650.2 1028.2,646.3 1028.7,642.3 1029.2,638.3 1029.7,634.3 1030.2,630.3 1030.7,626.3 1031.2,622.1 1031.7,617.7 1032.2,613.0 1032.7,607.9 1033.2,602.4 1033.7,596.4 1034.2,589.8 1034.7,582.5 1035.2,574.5 1035.7,565.4 1036.2,554.9 1036.7,542.9 1037.2,528.9 1037.7,511.0 1038.2,490.2 1038.7,468.5 1039.2,445.1 1039.7,421.2 1040.2,397.6 1040.7,373.7 1041.2,351.5 1041.7,332.5 1042.2,315.2 1042.7,299.3 1043.2,285.0 1043.7,272.4 1044.2,260.8 1044.7,250.1 1045.2,240.3 1045.7,231.5 1046.2,223.5 1046.7,216.3 1047.2,209.6 1047.7,203.3 1048.2,197.4 1048.7,191.7 1049.2,186.2 1049.7,180.9 1050.2,175.8 1050.7,170.9 1051.2,166.2 1051.7,161.7 1052.2,157.5 1052.7,153.2 1053.2,148.9 1053.7,144.7 1054.2,140.8 1054.7,137.3 1055.2,134.4 1055.7,132.2 1056.2,130.4 1056.7,128.8 1057.2,127.3 1057.7,126.2 1058.2,125.5 1058.7,124.9 1059.2,125.2 1059.7,126.1 1060.2,127.3 1060.7,128.7 1061.2,130.4 1061.7,132.2 1062.2,134.3 1062.7,137.2 1063.2,140.6 1063.7,144.5 1064.2,148.7 1064.7,153.0 1065.2,157.4 1065.7,161.8 1066.2,166.6 1066.7,171.6 1067.2,176.9 1067.7,182.6 1068.2,188.5 1068.7,194.7 1069.2,201.2 1069.7,208.0 1070.2,215.5 1070.7,223.8 1071.2,233.1 1071.7,243.6 1072.2,255.8 1072.7,269.9 1073.2,286.3 1073.7,307.5 1074.2,333.0 1074.7,361.3 1075.2,394.5 1075.7,432.2 1076.2,475.0 1076.7,515.7 1077.2,551.2 1077.7,582.2 1078.2,605.5 1078.7,622.3 1079.2,635.7 1079.7,647.0 1080.2,656.9 1080.7,665.4 1081.2,672.8 1081.7,679.8 1082.2,686.3 1082.7,692.2 1083.2,697.5 1083.7,702.0 1084.2,705.6 1084.7,708.9 1085.2,711.8 1085.7,714.4 1086.2,716.8 1086.7,718.9 1087.2,720.8 1087.7,722.5 1088.2,724.0 1088.7,725.4 1089.2,726.8 1089.7,728.1 1090.2,729.2 1090.7,730.2 1091.2,731.1 1091.7,731.7 1092.2,732.2 1098.2,732.1 1104.2,732.1 1110.2,732.1 1116.2,732.0 1122.2,732.0 1128.2,732.0 1134.2,732.0 1140.2,731.9 1146.2,731.9 1152.2,731.9 1157.2,731.9" fill="none" stroke="#ff8000" stroke-width="2.2" stroke-linejoin="round"/>
<path d="M193.7,736.3 199.7,736.3 205.7,736.2 211.7,736.2 217.7,736.2 223.7,736.2 229.7,736.1 235.7,736.1 241.7,736.1 247.7,736.0 253.7,736.0 258.7,735.7 260.7,735.4 262.2,735.1 263.7,734.8 265.2,734.5 266.7,734.2 268.2,733.8 269.7,733.5 270.7,733.2 271.7,733.0 272.7,732.7 273.7,732.4 274.7,732.1 275.7,731.8 276.7,731.5 277.7,731.2 278.7,730.9 279.7,730.5 280.7,730.1 281.7,729.8 282.7,729.4 283.7,728.9 284.7,728.5 285.7,728.0 286.7,727.6 287.7,727.1 288.2,726.8 288.7,726.6 289.2,726.3 289.7,726.0 290.2,725.7 290.7,725.5 291.2,725.2 291.7,724.9 292.2,724.6 292.7,724.3 293.2,724.0 293.7,723.6 294.2,723.3 294.7,722.9 295.2,722.6 295.7,722.2 296.2,721.8 296.7,721.3 297.2,720.8 297.7,720.4 298.2,719.9 298.7,719.3 299.2,718.8 299.7,718.2 300.2,717.6 300.7,717.0 301.2,716.4 301.7,715.7 302.2,715.1 302.7,714.4 303.2,713.7 303.7,713.0 304.2,712.3 304.7,711.5 305.2,710.8 305.7,710.0 306.2,709.2 306.7,708.4 307.2,707.5 307.7,706.7 308.2,705.9 308.7,705.0 309.2,704.1 309.7,703.2 310.2,702.2 310.7,701.2 311.2,700.2 311.7,699.1 312.2,698.0 312.7,696.8 313.2,695.6 313.7,694.4 314.2,693.1 314.7,691.8 315.2,690.4 315.7,689.0 316.2,687.6 316.7,686.1 317.2,684.6 317.7,683.0 318.2,681.4 318.7,679.7 319.2,678.0 319.7,676.3 320.2,674.5 320.7,672.7 321.2,670.8 321.7,668.9 322.2,666.9 322.7,664.9 323.2,662.7 323.7,660.3 324.2,657.8 324.7,655.2 325.2,652.4 325.7,649.5 326.2,646.5 326.7,643.5 327.2,640.3 327.7,637.0 328.2,633.7 328.7,630.4 329.2,626.9 329.7,623.4 330.2,619.9 330.7,616.4 331.2,612.8 331.7,609.3 332.2,605.6 332.7,601.9 333.2,598.0 333.7,594.0 334.2,590.0 334.7,585.8 335.2,581.6 335.7,577.3 336.2,572.9 336.7,568.5 337.2,564.0 337.7,559.4 338.2,554.8 338.7,550.1 339.2,545.4 339.7,540.7 340.2,536.0 340.7,531.2 341.2,526.3 341.7,521.3 342.2,516.2 342.7,511.0 343.2,505.7 343.7,500.4 344.2,495.1 344.7,489.7 345.2,484.2 345.7,478.8 346.2,473.3 346.7,467.8 347.2,462.4 347.7,456.9 348.2,451.4 348.7,445.9 349.2,440.2 349.7,434.5 350.2,428.8 350.7,423.1 351.2,417.4 351.7,411.7 352.2,406.0 352.7,400.4 353.2,394.9 353.7,389.5 354.2,384.2 354.7,378.9 355.2,373.6 355.7,368.4 356.2,363.1 356.7,357.9 357.2,352.7 357.7,347.6 358.2,342.6 358.7,337.6 359.2,332.6 359.7,327.8 360.2,323.1 360.7,318.5 361.2,314.0 361.7,309.6 362.2,305.3 362.7,301.0 363.2,296.7 363.7,292.5 364.2,288.5 364.7,284.6 365.2,281.1 365.7,277.9 366.2,275.1 366.7,272.5 367.2,270.1 367.7,268.0 368.2,266.2 368.7,264.8 369.2,263.8 369.7,262.9 370.2,262.1 370.7,261.5 372.2,261.8 372.7,262.5 373.2,263.5 373.7,264.7 374.2,266.2 374.7,268.0 375.2,270.0 375.7,272.3 376.2,274.9 376.7,277.7 377.2,280.8 377.7,284.1 378.2,287.6 378.7,291.4 379.2,295.4 379.7,299.6 380.2,304.0 380.7,308.6 381.2,313.5 381.7,318.5 382.2,323.7 382.7,329.0 383.2,334.6 383.7,340.3 384.2,346.1 384.7,352.1 385.2,358.2 385.7,364.4 386.2,370.7 386.7,377.1 387.2,383.7 387.7,390.3 388.2,396.9 388.7,403.7 389.2,410.5 389.7,417.3 390.2,424.2 390.7,431.1 391.2,438.0 391.7,445.0 392.2,451.9 392.7,458.9 393.2,465.8 393.7,472.7 394.2,479.6 394.7,486.4 395.2,493.2 395.7,500.0 396.2,506.7 396.7,513.3 397.2,519.9 397.7,526.4 398.2,532.8 398.7,539.1 399.2,545.4 399.7,551.5 400.2,557.6 400.7,563.6 401.2,569.4 401.7,575.2 402.2,580.8 402.7,586.4 403.2,591.8 403.7,597.1 404.2,602.3 404.7,607.3 405.2,612.3 405.7,617.1 406.2,621.8 406.7,626.3 407.2,630.8 407.7,635.1 408.2,639.3 408.7,643.4 409.2,647.4 409.7,651.2 410.2,654.9 410.7,658.5 411.2,662.0 411.7,665.3 412.2,668.6 412.7,671.7 413.2,674.7 413.7,677.7 414.2,680.5 414.7,683.2 415.2,685.7 415.7,688.2 416.2,690.6 416.7,692.9 417.2,695.1 417.7,697.2 418.2,699.2 418.7,701.2 419.2,703.0 419.7,704.8 420.2,706.5 420.7,708.1 421.2,709.6 421.7,711.1 422.2,712.4 422.7,713.8 423.2,715.0 423.7,716.2 424.2,717.3 424.7,718.4 425.2,719.4 425.7,720.4 426.2,721.3 426.7,722.2 427.2,723.0 427.7,723.8 428.2,724.5 428.7,725.2 429.2,725.8 429.7,726.4 430.2,726.9 430.7,727.4 431.2,727.8 431.7,728.1 432.2,728.5 432.7,728.8 433.7,729.2 434.7,729.5 440.2,729.1 441.2,728.8 442.2,728.4 443.2,727.9 443.7,727.6 444.2,727.4 444.7,727.1 445.2,726.8 445.7,726.5 446.2,726.2 446.7,725.9 447.2,725.5 447.7,725.2 448.2,724.9 448.7,724.5 449.2,724.2 449.7,723.8 450.2,723.4 450.7,723.0 451.2,722.5 451.7,722.0 452.2,721.5 452.7,721.0 453.2,720.4 453.7,719.9 454.2,719.3 454.7,718.7 455.2,718.0 455.7,717.4 456.2,716.7 456.7,716.0 457.2,715.3 457.7,714.5 458.2,713.7 458.7,713.0 459.2,712.2 459.7,711.3 460.2,710.5 460.7,709.6 461.2,708.7 461.7,707.8 462.2,706.9 462.7,706.0 463.2,705.0 463.7,704.0 464.2,703.0 464.7,702.0 465.2,701.0 465.7,699.9 466.2,698.8 466.7,697.8 467.2,696.6 467.7,695.5 468.2,694.4 468.7,693.2 469.2,692.0 469.7,690.8 470.2,689.6 470.7,688.4 471.2,687.1 471.7,685.8 472.2,684.4 472.7,682.8 473.2,681.2 473.7,679.5 474.2,677.7 474.7,675.8 475.2,673.9 475.7,671.9 476.2,669.7 476.7,667.6 477.2,665.3 477.7,663.0 478.2,660.7 478.7,658.2 479.2,655.8 479.7,653.2 480.2,650.7 480.7,648.1 481.2,645.3 481.7,642.4 482.2,639.4 482.7,636.2 483.2,633.0 483.7,629.6 484.2,626.1 484.7,622.5 485.2,618.8 485.7,615.0 486.2,611.1 486.7,607.2 487.2,603.2 487.7,599.1 488.2,595.0 488.7,590.8 489.2,586.6 489.7,582.4 490.2,578.1 490.7,573.8 491.2,569.5 491.7,565.1 492.2,560.6 492.7,556.1 493.2,551.4 493.7,546.7 494.2,541.9 494.7,536.9 495.2,531.8 495.7,526.5 496.2,521.2 496.7,515.6 497.2,509.9 497.7,504.0 498.2,497.9 498.7,491.5 499.2,484.8 499.7,477.7 500.2,470.3 500.7,462.6 501.2,454.6 501.7,446.5 502.2,438.1 502.7,429.5 503.2,420.8 503.7,411.5 504.2,401.5 504.7,391.0 505.2,380.4 505.7,369.9 506.2,359.8 506.7,350.3 507.2,341.6 507.7,333.3 508.2,325.5 508.7,317.9 509.2,310.4 509.7,303.1 510.2,295.8 510.7,288.4 511.2,280.8 511.7,273.0 512.2,264.8 512.7,256.2 513.2,247.2 513.7,238.2 514.2,229.2 514.7,220.4 515.2,212.0 515.7,204.1 516.2,196.9 516.7,190.3 517.2,184.1 517.7,178.2 518.2,172.8 518.7,167.8 519.2,163.5 519.7,159.5 520.2,155.8 520.7,152.8 521.2,150.8 521.7,149.2 522.2,147.8 522.7,147.0 523.7,147.3 524.2,148.6 524.7,150.6 525.2,153.5 525.7,157.0 526.2,161.3 526.7,166.4 527.2,172.1 527.7,178.5 528.2,185.5 528.7,193.2 529.2,201.4 529.7,210.2 530.2,219.6 530.7,229.4 531.2,239.7 531.7,250.5 532.2,261.6 532.7,273.0 533.2,284.8 533.7,296.9 534.2,309.2 534.7,321.7 535.2,334.3 535.7,347.1 536.2,360.0 536.7,372.9 537.2,385.8 537.7,398.7 538.2,411.5 538.7,424.3 539.2,436.9 539.7,449.4 540.2,461.8 540.7,473.9 541.2,485.9 541.7,497.6 542.2,509.0 542.7,520.2 543.2,531.1 543.7,541.7 544.2,552.0 544.7,561.9 545.2,571.5 545.7,580.8 546.2,589.8 546.7,598.4 547.2,606.7 547.7,614.6 548.2,622.2 548.7,629.4 549.2,636.3 549.7,642.9 550.2,649.1 550.7,655.1 551.2,660.7 551.7,666.0 552.2,671.0 552.7,675.7 553.2,680.1 553.7,684.3 554.2,688.2 554.7,691.9 555.2,695.3 555.7,698.5 556.2,701.5 556.7,704.3 557.2,706.9 557.7,709.2 558.2,711.5 558.7,713.5 559.2,715.4 559.7,717.1 560.2,718.8 560.7,720.2 561.2,721.6 561.7,722.8 562.2,724.0 562.7,725.0 563.2,726.0 563.7,726.8 564.2,727.6 564.7,728.3 565.2,729.0 565.7,729.6 566.2,730.1 566.7,730.6 567.2,731.0 567.7,731.4 568.2,731.7 568.7,732.1 569.2,732.3 569.7,732.6 570.7,733.0 571.7,733.4 572.7,733.6 574.2,733.9 576.2,734.2 581.2,734.4 587.2,734.5 593.2,734.5 599.2,734.4 605.2,734.4 611.2,734.4 617.2,734.3 623.2,734.3 629.2,734.3 635.2,734.3 641.2,734.2 647.2,734.2 653.2,734.2 659.2,734.1 665.2,734.1 671.2,734.1 677.2,734.1 683.2,734.0 689.2,734.0 695.2,734.0 701.2,734.0 707.2,733.9 713.2,733.9 719.2,733.9 725.2,733.8 731.2,733.8 737.2,733.8 743.2,733.8 749.2,733.7 755.2,733.7 761.2,733.7 767.2,733.7 773.2,733.6 779.2,733.6 785.2,733.6 791.2,733.5 797.2,733.5 803.2,733.5 809.2,733.5 815.2,733.4 821.2,733.4 827.2,733.4 833.2,733.3 839.2,733.3 845.2,733.2 851.2,733.2 857.2,733.1 863.2,733.0 869.2,732.8 875.2,732.6 881.2,732.3 886.7,732.1 891.7,731.8 896.2,731.5 901.2,731.3 906.2,731.0 912.2,730.8 918.2,730.6 924.2,730.5 930.2,730.6 936.2,730.7 942.2,730.9 948.2,731.2 953.7,731.5 959.7,731.7 965.7,732.0 971.7,732.2 977.7,732.3 983.7,732.4 989.7,732.5 995.7,732.4 996.7,732.1 997.7,731.9 998.7,731.6 999.7,731.3 1000.7,730.9 1001.2,730.6 1001.7,730.4 1002.2,730.1 1002.7,729.9 1003.2,729.6 1003.7,729.2 1004.2,728.9 1004.7,728.6 1005.2,728.3 1005.7,727.9 1006.2,727.6 1006.7,727.2 1007.2,726.8 1007.7,726.4 1008.2,726.1 1008.7,725.7 1009.2,725.3 1009.7,724.9 1010.2,724.5 1010.7,724.1 1011.2,723.7 1011.7,723.2 1012.2,722.8 1012.7,722.4 1013.2,722.0 1013.7,721.5 1014.2,721.0 1014.7,720.5 1015.2,720.0 1015.7,719.5 1016.2,719.0 1016.7,718.4 1017.2,717.8 1017.7,717.1 1018.2,716.5 1018.7,715.8 1019.2,715.0 1019.7,714.3 1020.2,713.5 1020.7,712.6 1021.2,711.7 1021.7,710.8 1022.2,709.8 1022.7,708.8 1023.2,707.7 1023.7,706.5 1024.2,705.2 1024.7,703.5 1025.2,701.6 1025.7,699.4 1026.2,696.9 1026.7,694.2 1027.2,691.4 1027.7,688.4 1028.2,685.3 1028.7,682.1 1029.2,678.8 1029.7,675.6 1030.2,672.3 1030.7,669.0 1031.2,665.4 1031.7,661.5 1032.2,657.5 1032.7,653.4 1033.2,649.2 1033.7,645.1 1034.2,641.0 1034.7,636.8 1035.2,632.3 1035.7,627.5 1036.2,622.3 1036.7,616.5 1037.2,610.0 1037.7,602.7 1038.2,594.5 1038.7,584.9 1039.2,573.4 1039.7,559.7 1040.2,542.3 1040.7,520.1 1041.2,498.3 1041.7,476.2 1042.2,453.9 1042.7,431.8 1043.2,409.6 1043.7,389.6 1044.2,372.4 1044.7,356.6 1045.2,342.4 1045.7,329.8 1046.2,318.5 1046.7,308.2 1047.2,298.7 1047.7,290.1 1048.2,282.4 1048.7,275.5 1049.2,269.2 1049.7,263.3 1050.2,257.8 1050.7,252.4 1051.2,247.3 1051.7,242.3 1052.2,237.6 1052.7,233.0 1053.2,228.7 1053.7,224.6 1054.2,220.6 1054.7,216.6 1055.2,212.6 1055.7,208.8 1056.2,205.4 1056.7,202.4 1057.2,200.1 1057.7,198.4 1058.2,196.8 1058.7,195.4 1059.2,194.3 1059.7,193.7 1060.2,193.1 1060.7,193.4 1061.2,194.2 1061.7,195.3 1062.2,196.7 1062.7,198.2 1063.2,199.8 1063.7,202.0 1064.2,204.7 1064.7,208.0 1065.2,211.6 1065.7,215.5 1066.2,219.5 1066.7,223.5 1067.2,227.7 1067.7,232.1 1068.2,236.9 1068.7,241.9 1069.2,247.2 1069.7,252.7 1070.2,258.6 1070.7,264.7 1071.2,271.3 1071.7,278.7 1072.2,286.9 1072.7,296.3 1073.2,307.1 1073.7,319.6 1074.2,334.2 1074.7,353.0 1075.2,376.1 1075.7,401.8 1076.2,432.1 1076.7,466.6 1077.2,505.7 1077.7,542.9 1078.2,574.9 1078.7,602.6 1079.2,622.6 1079.7,637.3 1080.2,649.0 1080.7,659.1 1081.2,667.7 1081.7,675.1 1082.2,681.7 1082.7,688.0 1083.2,693.7 1083.7,698.9 1084.2,703.4 1084.7,707.1 1085.2,710.2 1085.7,713.0 1086.2,715.5 1086.7,717.8 1087.2,719.8 1087.7,721.6 1088.2,723.2 1088.7,724.6 1089.2,725.9 1089.7,727.2 1090.2,728.4 1090.7,729.4 1091.2,730.4 1091.7,731.2 1092.2,731.8 1092.7,732.2 1098.7,732.1 1104.7,732.1 1110.7,732.1 1116.7,732.0 1122.7,732.0 1128.7,732.0 1134.7,732.0 1140.7,731.9 1146.7,731.9 1152.7,731.9 1157.2,731.9" fill="none" stroke="#008c3c" stroke-width="2.7" stroke-linejoin="round"/>
</g>
<rect x="193.7" y="37.3" width="963.6" height="715.7" fill="none" stroke="#000" stroke-width="5"/>
<line x1="193.7" y1="753" x2="193.7" y2="770.5" stroke="#000" stroke-width="4.6" stroke-linecap="butt"/>
<text x="193.7" y="809" font-size="42" text-anchor="middle" textLength="64" lengthAdjust="spacingAndGlyphs">-1.0</text>
<line x1="339.6" y1="753" x2="339.6" y2="770.5" stroke="#000" stroke-width="4.6" stroke-linecap="butt"/>
<text x="339.6" y="809" font-size="42" text-anchor="middle" textLength="64" lengthAdjust="spacingAndGlyphs">-0.8</text>
<line x1="485.5" y1="753" x2="485.5" y2="770.5" stroke="#000" stroke-width="4.6" stroke-linecap="butt"/>
<text x="485.5" y="809" font-size="42" text-anchor="middle" textLength="64" lengthAdjust="spacingAndGlyphs">-0.6</text>
<line x1="631.4" y1="753" x2="631.4" y2="770.5" stroke="#000" stroke-width="4.6" stroke-linecap="butt"/>
<text x="631.4" y="809" font-size="42" text-anchor="middle" textLength="64" lengthAdjust="spacingAndGlyphs">-0.4</text>
<line x1="777.3" y1="753" x2="777.3" y2="770.5" stroke="#000" stroke-width="4.6" stroke-linecap="butt"/>
<text x="777.3" y="809" font-size="42" text-anchor="middle" textLength="64" lengthAdjust="spacingAndGlyphs">-0.2</text>
<line x1="923.2" y1="753" x2="923.2" y2="770.5" stroke="#000" stroke-width="4.6" stroke-linecap="butt"/>
<text x="923.2" y="809" font-size="42" text-anchor="middle" textLength="50.6" lengthAdjust="spacingAndGlyphs">0.0</text>
<line x1="1069.1" y1="753" x2="1069.1" y2="770.5" stroke="#000" stroke-width="4.6" stroke-linecap="butt"/>
<text x="1069.1" y="809" font-size="42" text-anchor="middle" textLength="50.6" lengthAdjust="spacingAndGlyphs">0.2</text>
<line x1="266.6" y1="753" x2="266.6" y2="763.3" stroke="#000" stroke-width="4.6" stroke-linecap="butt"/>
<line x1="412.6" y1="753" x2="412.6" y2="763.3" stroke="#000" stroke-width="4.6" stroke-linecap="butt"/>
<line x1="558.5" y1="753" x2="558.5" y2="763.3" stroke="#000" stroke-width="4.6" stroke-linecap="butt"/>
<line x1="704.4" y1="753" x2="704.4" y2="763.3" stroke="#000" stroke-width="4.6" stroke-linecap="butt"/>
<line x1="850.2" y1="753" x2="850.2" y2="763.3" stroke="#000" stroke-width="4.6" stroke-linecap="butt"/>
<line x1="996.2" y1="753" x2="996.2" y2="763.3" stroke="#000" stroke-width="4.6" stroke-linecap="butt"/>
<line x1="1142" y1="753" x2="1142" y2="763.3" stroke="#000" stroke-width="4.6" stroke-linecap="butt"/>
<line x1="176.2" y1="753" x2="193.7" y2="753" stroke="#000" stroke-width="4.6" stroke-linecap="butt"/>
<text x="169.1" y="765.3" font-size="42" text-anchor="end" textLength="20.2" lengthAdjust="spacingAndGlyphs">0</text>
<line x1="176.2" y1="616.6" x2="193.7" y2="616.6" stroke="#000" stroke-width="4.6" stroke-linecap="butt"/>
<text x="169.1" y="628.9" font-size="42" text-anchor="end" textLength="40.4" lengthAdjust="spacingAndGlyphs">20</text>
<line x1="176.2" y1="480.2" x2="193.7" y2="480.2" stroke="#000" stroke-width="4.6" stroke-linecap="butt"/>
<text x="169.1" y="492.5" font-size="42" text-anchor="end" textLength="40.4" lengthAdjust="spacingAndGlyphs">40</text>
<line x1="176.2" y1="343.8" x2="193.7" y2="343.8" stroke="#000" stroke-width="4.6" stroke-linecap="butt"/>
<text x="169.1" y="356.1" font-size="42" text-anchor="end" textLength="40.4" lengthAdjust="spacingAndGlyphs">60</text>
<line x1="176.2" y1="207.4" x2="193.7" y2="207.4" stroke="#000" stroke-width="4.6" stroke-linecap="butt"/>
<text x="169.1" y="219.7" font-size="42" text-anchor="end" textLength="40.4" lengthAdjust="spacingAndGlyphs">80</text>
<line x1="176.2" y1="71" x2="193.7" y2="71" stroke="#000" stroke-width="4.6" stroke-linecap="butt"/>
<text x="169.1" y="83.3" font-size="42" text-anchor="end" textLength="60.7" lengthAdjust="spacingAndGlyphs">100</text>
<line x1="183.4" y1="684.8" x2="193.7" y2="684.8" stroke="#000" stroke-width="4.6" stroke-linecap="butt"/>
<line x1="183.4" y1="548.4" x2="193.7" y2="548.4" stroke="#000" stroke-width="4.6" stroke-linecap="butt"/>
<line x1="183.4" y1="412" x2="193.7" y2="412" stroke="#000" stroke-width="4.6" stroke-linecap="butt"/>
<line x1="183.4" y1="275.6" x2="193.7" y2="275.6" stroke="#000" stroke-width="4.6" stroke-linecap="butt"/>
<line x1="183.4" y1="139.2" x2="193.7" y2="139.2" stroke="#000" stroke-width="4.6" stroke-linecap="butt"/>
<text x="88.1" y="416.5" font-size="62.5" text-anchor="middle" textLength="297.5" lengthAdjust="spacingAndGlyphs" transform="rotate(-90 88.1 416.5)">Current/μA</text>
<text x="689" y="876.4" font-size="60" text-anchor="middle" textLength="286.5" lengthAdjust="spacingAndGlyphs">potential/V</text>
<text x="263.4" y="107" font-size="84" text-anchor="middle" textLength="104.5" lengthAdjust="spacingAndGlyphs">(a)</text>
<text x="381.4" y="242.3" font-size="37.5" text-anchor="middle" textLength="104" lengthAdjust="spacingAndGlyphs">Cd(II)</text>
<text x="531.2" y="128" font-size="40" text-anchor="middle" textLength="105.5" lengthAdjust="spacingAndGlyphs">Pb(II)</text>
<text x="1059.5" y="100.4" font-size="40" text-anchor="middle" textLength="107" lengthAdjust="spacingAndGlyphs">Hg(II)</text>
<text x="263.7" y="339.3" font-size="33" text-anchor="middle" textLength="92.5" lengthAdjust="spacingAndGlyphs">2.8μM</text>
<text x="267" y="561" font-size="33" text-anchor="middle" textLength="108.5" lengthAdjust="spacingAndGlyphs">0.04μM</text>
<text x="619.2" y="340.2" font-size="33" text-anchor="middle" textLength="92.5" lengthAdjust="spacingAndGlyphs">2.8μM</text>
<text x="620" y="566.7" font-size="33" text-anchor="middle" textLength="126.5" lengthAdjust="spacingAndGlyphs">0.024μM</text>
<text x="965.7" y="331.2" font-size="33" text-anchor="middle" textLength="93.5" lengthAdjust="spacingAndGlyphs">3.2μM</text>
<text x="959.4" y="567.4" font-size="33" text-anchor="middle" textLength="109" lengthAdjust="spacingAndGlyphs">0.16μM</text>
<line x1="256.9" y1="531" x2="256.9" y2="388" stroke="#222" stroke-width="3" stroke-linecap="butt"/>
<path d="M256.9,373 L250.7,394 L263.1,394 Z" fill="#000"/>
<line x1="617" y1="533" x2="617" y2="382" stroke="#222" stroke-width="3" stroke-linecap="butt"/>
<path d="M617,367 L610.8,388 L623.2,388 Z" fill="#000"/>
<line x1="952.9" y1="530" x2="952.9" y2="378.5" stroke="#555" stroke-width="3" stroke-linecap="butt"/>
<path d="M952.9,363.5 L946.7,384.5 L959.1,384.5 Z" fill="#000"/>
<rect x="1396.8" y="661.5" width="15.5" height="15.5" fill="#000"/>
<rect x="1455.5" y="642.1" width="15.5" height="15.5" fill="#000"/>
<rect x="1514.2" y="611.8" width="15.5" height="15.5" fill="#000"/>
<rect x="1631.5" y="556.1" width="15.5" height="15.5" fill="#000"/>
<rect x="1748.9" y="471.8" width="15.5" height="15.5" fill="#000"/>
<rect x="1866.2" y="377.4" width="15.5" height="15.5" fill="#000"/>
<rect x="1983.5" y="282.2" width="15.5" height="15.5" fill="#000"/>
<rect x="2100.9" y="193.6" width="15.5" height="15.5" fill="#000"/>
<rect x="2218.2" y="84" width="15.5" height="15.5" fill="#000"/>
<line x1="1404.6" y1="702.6" x2="2226" y2="120.5" stroke="#ff0000" stroke-width="4.5" stroke-linecap="round"/>
<rect x="1339.5" y="41.3" width="951.8" height="707.6" fill="none" stroke="#000" stroke-width="5"/>
<line x1="1404.6" y1="748.9" x2="1404.6" y2="766.4" stroke="#000" stroke-width="4.6" stroke-linecap="butt"/>
<text x="1404.6" y="804.5" font-size="42" text-anchor="middle" textLength="50.6" lengthAdjust="spacingAndGlyphs">0.0</text>
<line x1="1551.3" y1="748.9" x2="1551.3" y2="766.4" stroke="#000" stroke-width="4.6" stroke-linecap="butt"/>
<text x="1551.3" y="804.5" font-size="42" text-anchor="middle" textLength="50.6" lengthAdjust="spacingAndGlyphs">0.5</text>
<line x1="1697.9" y1="748.9" x2="1697.9" y2="766.4" stroke="#000" stroke-width="4.6" stroke-linecap="butt"/>
<text x="1697.9" y="804.5" font-size="42" text-anchor="middle" textLength="50.6" lengthAdjust="spacingAndGlyphs">1.0</text>
<line x1="1844.6" y1="748.9" x2="1844.6" y2="766.4" stroke="#000" stroke-width="4.6" stroke-linecap="butt"/>
<text x="1844.6" y="804.5" font-size="42" text-anchor="middle" textLength="50.6" lengthAdjust="spacingAndGlyphs">1.5</text>
<line x1="1991.3" y1="748.9" x2="1991.3" y2="766.4" stroke="#000" stroke-width="4.6" stroke-linecap="butt"/>
<text x="1991.3" y="804.5" font-size="42" text-anchor="middle" textLength="50.6" lengthAdjust="spacingAndGlyphs">2.0</text>
<line x1="2138" y1="748.9" x2="2138" y2="766.4" stroke="#000" stroke-width="4.6" stroke-linecap="butt"/>
<text x="2138" y="804.5" font-size="42" text-anchor="middle" textLength="50.6" lengthAdjust="spacingAndGlyphs">2.5</text>
<line x1="2284.7" y1="748.9" x2="2284.7" y2="766.4" stroke="#000" stroke-width="4.6" stroke-linecap="butt"/>
<text x="2284.7" y="804.5" font-size="42" text-anchor="middle" textLength="50.6" lengthAdjust="spacingAndGlyphs">3.0</text>
<line x1="1322" y1="681.9" x2="1339.5" y2="681.9" stroke="#000" stroke-width="4.6" stroke-linecap="butt"/>
<text x="1314.9" y="694.2" font-size="42" text-anchor="end" textLength="20.2" lengthAdjust="spacingAndGlyphs">0</text>
<line x1="1322" y1="597.6" x2="1339.5" y2="597.6" stroke="#000" stroke-width="4.6" stroke-linecap="butt"/>
<text x="1314.9" y="609.9" font-size="42" text-anchor="end" textLength="40.4" lengthAdjust="spacingAndGlyphs">10</text>
<line x1="1322" y1="513.3" x2="1339.5" y2="513.3" stroke="#000" stroke-width="4.6" stroke-linecap="butt"/>
<text x="1314.9" y="525.6" font-size="42" text-anchor="end" textLength="40.4" lengthAdjust="spacingAndGlyphs">20</text>
<line x1="1322" y1="429" x2="1339.5" y2="429" stroke="#000" stroke-width="4.6" stroke-linecap="butt"/>
<text x="1314.9" y="441.3" font-size="42" text-anchor="end" textLength="40.4" lengthAdjust="spacingAndGlyphs">30</text>
<line x1="1322" y1="344.7" x2="1339.5" y2="344.7" stroke="#000" stroke-width="4.6" stroke-linecap="butt"/>
<text x="1314.9" y="357" font-size="42" text-anchor="end" textLength="40.4" lengthAdjust="spacingAndGlyphs">40</text>
<line x1="1322" y1="260.4" x2="1339.5" y2="260.4" stroke="#000" stroke-width="4.6" stroke-linecap="butt"/>
<text x="1314.9" y="272.7" font-size="42" text-anchor="end" textLength="40.4" lengthAdjust="spacingAndGlyphs">50</text>
<line x1="1322" y1="176.1" x2="1339.5" y2="176.1" stroke="#000" stroke-width="4.6" stroke-linecap="butt"/>
<text x="1314.9" y="188.4" font-size="42" text-anchor="end" textLength="40.4" lengthAdjust="spacingAndGlyphs">60</text>
<line x1="1322" y1="91.8" x2="1339.5" y2="91.8" stroke="#000" stroke-width="4.6" stroke-linecap="butt"/>
<text x="1314.9" y="104.1" font-size="42" text-anchor="end" textLength="40.4" lengthAdjust="spacingAndGlyphs">70</text>
<line x1="1329.2" y1="724" x2="1339.5" y2="724" stroke="#000" stroke-width="4.6" stroke-linecap="butt"/>
<line x1="1329.2" y1="639.8" x2="1339.5" y2="639.8" stroke="#000" stroke-width="4.6" stroke-linecap="butt"/>
<line x1="1329.2" y1="555.5" x2="1339.5" y2="555.5" stroke="#000" stroke-width="4.6" stroke-linecap="butt"/>
<line x1="1329.2" y1="471.1" x2="1339.5" y2="471.1" stroke="#000" stroke-width="4.6" stroke-linecap="butt"/>
<line x1="1329.2" y1="386.8" x2="1339.5" y2="386.8" stroke="#000" stroke-width="4.6" stroke-linecap="butt"/>
<line x1="1329.2" y1="302.6" x2="1339.5" y2="302.6" stroke="#000" stroke-width="4.6" stroke-linecap="butt"/>
<line x1="1329.2" y1="218.2" x2="1339.5" y2="218.2" stroke="#000" stroke-width="4.6" stroke-linecap="butt"/>
<line x1="1329.2" y1="134" x2="1339.5" y2="134" stroke="#000" stroke-width="4.6" stroke-linecap="butt"/>
<line x1="1329.2" y1="49.6" x2="1339.5" y2="49.6" stroke="#000" stroke-width="4.6" stroke-linecap="butt"/>
<text x="1242.3" y="389.3" font-size="56" text-anchor="middle" textLength="272.5" lengthAdjust="spacingAndGlyphs" transform="rotate(-90 1242.3 389.3)">Current/μA</text>
<text x="1814.3" y="876.8" font-size="56" text-anchor="middle" textLength="437" lengthAdjust="spacingAndGlyphs">Concentration/μM</text>
<text x="1411.6" y="115.2" font-size="84" text-anchor="middle" textLength="108.3" lengthAdjust="spacingAndGlyphs">(b)</text>
<text x="2093.3" y="124.2" font-size="40" text-anchor="middle" textLength="107" lengthAdjust="spacingAndGlyphs">Cd(II)</text>
<text x="2001" y="556.8" font-size="47.5" text-anchor="middle" textLength="178.5" lengthAdjust="spacingAndGlyphs">R<tspan font-size="29" dy="-21">2</tspan><tspan dy="21">=0.988</tspan></text>
<text x="2002.8" y="656.8" font-size="47" text-anchor="middle" textLength="391.7" lengthAdjust="spacingAndGlyphs">y(μA)=24.64C - 2.41</text>
<rect x="239.2" y="1586.3" width="15.5" height="15.5" fill="#000"/>
<rect x="299" y="1543.7" width="15.5" height="15.5" fill="#000"/>
<rect x="358.8" y="1496.5" width="15.5" height="15.5" fill="#000"/>
<rect x="478.4" y="1421.9" width="15.5" height="15.5" fill="#000"/>
<rect x="597.9" y="1342.8" width="15.5" height="15.5" fill="#000"/>
<rect x="717.5" y="1261.3" width="15.5" height="15.5" fill="#000"/>
<rect x="837" y="1170.8" width="15.5" height="15.5" fill="#000"/>
<rect x="956.6" y="1063.5" width="15.5" height="15.5" fill="#000"/>
<rect x="1076.2" y="964.5" width="15.5" height="15.5" fill="#000"/>
<line x1="247" y1="1600.7" x2="1083.9" y2="991.3" stroke="#ff0000" stroke-width="4.5" stroke-linecap="round"/>
<rect x="180.5" y="927.5" width="970.5" height="721.9" fill="none" stroke="#000" stroke-width="5"/>
<line x1="247" y1="1649.4" x2="247" y2="1666.9" stroke="#000" stroke-width="4.6" stroke-linecap="butt"/>
<text x="247" y="1704.8" font-size="42" text-anchor="middle" textLength="50.6" lengthAdjust="spacingAndGlyphs">0.0</text>
<line x1="396.4" y1="1649.4" x2="396.4" y2="1666.9" stroke="#000" stroke-width="4.6" stroke-linecap="butt"/>
<text x="396.4" y="1704.8" font-size="42" text-anchor="middle" textLength="50.6" lengthAdjust="spacingAndGlyphs">0.5</text>
<line x1="545.9" y1="1649.4" x2="545.9" y2="1666.9" stroke="#000" stroke-width="4.6" stroke-linecap="butt"/>
<text x="545.9" y="1704.8" font-size="42" text-anchor="middle" textLength="50.6" lengthAdjust="spacingAndGlyphs">1.0</text>
<line x1="695.3" y1="1649.4" x2="695.3" y2="1666.9" stroke="#000" stroke-width="4.6" stroke-linecap="butt"/>
<text x="695.3" y="1704.8" font-size="42" text-anchor="middle" textLength="50.6" lengthAdjust="spacingAndGlyphs">1.5</text>
<line x1="844.8" y1="1649.4" x2="844.8" y2="1666.9" stroke="#000" stroke-width="4.6" stroke-linecap="butt"/>
<text x="844.8" y="1704.8" font-size="42" text-anchor="middle" textLength="50.6" lengthAdjust="spacingAndGlyphs">2.0</text>
<line x1="994.2" y1="1649.4" x2="994.2" y2="1666.9" stroke="#000" stroke-width="4.6" stroke-linecap="butt"/>
<text x="994.2" y="1704.8" font-size="42" text-anchor="middle" textLength="50.6" lengthAdjust="spacingAndGlyphs">2.5</text>
<line x1="1143.7" y1="1649.4" x2="1143.7" y2="1666.9" stroke="#000" stroke-width="4.6" stroke-linecap="butt"/>
<text x="1143.7" y="1704.8" font-size="42" text-anchor="middle" textLength="50.6" lengthAdjust="spacingAndGlyphs">3.0</text>
<line x1="163" y1="1619.9" x2="180.5" y2="1619.9" stroke="#000" stroke-width="4.6" stroke-linecap="butt"/>
<text x="155.9" y="1632.2" font-size="42" text-anchor="end" textLength="20.2" lengthAdjust="spacingAndGlyphs">0</text>
<line x1="163" y1="1467.7" x2="180.5" y2="1467.7" stroke="#000" stroke-width="4.6" stroke-linecap="butt"/>
<text x="155.9" y="1480" font-size="42" text-anchor="end" textLength="40.4" lengthAdjust="spacingAndGlyphs">20</text>
<line x1="163" y1="1315.5" x2="180.5" y2="1315.5" stroke="#000" stroke-width="4.6" stroke-linecap="butt"/>
<text x="155.9" y="1327.8" font-size="42" text-anchor="end" textLength="40.4" lengthAdjust="spacingAndGlyphs">40</text>
<line x1="163" y1="1163.3" x2="180.5" y2="1163.3" stroke="#000" stroke-width="4.6" stroke-linecap="butt"/>
<text x="155.9" y="1175.6" font-size="42" text-anchor="end" textLength="40.4" lengthAdjust="spacingAndGlyphs">60</text>
<line x1="163" y1="1011.1" x2="180.5" y2="1011.1" stroke="#000" stroke-width="4.6" stroke-linecap="butt"/>
<text x="155.9" y="1023.4" font-size="42" text-anchor="end" textLength="40.4" lengthAdjust="spacingAndGlyphs">80</text>
<line x1="170.2" y1="1543.8" x2="180.5" y2="1543.8" stroke="#000" stroke-width="4.6" stroke-linecap="butt"/>
<line x1="170.2" y1="1391.6" x2="180.5" y2="1391.6" stroke="#000" stroke-width="4.6" stroke-linecap="butt"/>
<line x1="170.2" y1="1239.4" x2="180.5" y2="1239.4" stroke="#000" stroke-width="4.6" stroke-linecap="butt"/>
<line x1="170.2" y1="1087.2" x2="180.5" y2="1087.2" stroke="#000" stroke-width="4.6" stroke-linecap="butt"/>
<line x1="170.2" y1="935" x2="180.5" y2="935" stroke="#000" stroke-width="4.6" stroke-linecap="butt"/>
<text x="81.7" y="1280.1" font-size="58" text-anchor="middle" textLength="279.7" lengthAdjust="spacingAndGlyphs" transform="rotate(-90 81.7 1280.1)">Current/μA</text>
<text x="639.6" y="1778.4" font-size="57" text-anchor="middle" textLength="450.5" lengthAdjust="spacingAndGlyphs">Concentration/μM</text>
<text x="239.9" y="998.8" font-size="84" text-anchor="middle" textLength="97.6" lengthAdjust="spacingAndGlyphs">(c)</text>
<text x="941.8" y="1004.4" font-size="40" text-anchor="middle" textLength="105" lengthAdjust="spacingAndGlyphs">Pb(II)</text>
<text x="907" y="1406.3" font-size="47.5" text-anchor="middle" textLength="182" lengthAdjust="spacingAndGlyphs">R<tspan font-size="29" dy="-21">2</tspan><tspan dy="21">=0.997</tspan></text>
<text x="882.7" y="1526.8" font-size="47" text-anchor="middle" textLength="393.7" lengthAdjust="spacingAndGlyphs">y(μA)=28.6C + 2.52</text>
<rect x="1384.5" y="1554.5" width="15.5" height="15.5" fill="#000"/>
<rect x="1435.3" y="1545.3" width="15.5" height="15.5" fill="#000"/>
<rect x="1486.1" y="1527.5" width="15.5" height="15.5" fill="#000"/>
<rect x="1587.8" y="1474.9" width="15.5" height="15.5" fill="#000"/>
<rect x="1689.5" y="1407.3" width="15.5" height="15.5" fill="#000"/>
<rect x="1791.2" y="1327.4" width="15.5" height="15.5" fill="#000"/>
<rect x="1892.8" y="1237.1" width="15.5" height="15.5" fill="#000"/>
<rect x="1994.5" y="1164" width="15.5" height="15.5" fill="#000"/>
<rect x="2096.2" y="1067.5" width="15.5" height="15.5" fill="#000"/>
<rect x="2197.9" y="983.3" width="15.5" height="15.5" fill="#000"/>
<line x1="1392.2" y1="1605" x2="2205.6" y2="1017.5" stroke="#ff0000" stroke-width="4.5" stroke-linecap="round"/>
<rect x="1327.6" y="922.5" width="979.8" height="729.1" fill="none" stroke="#000" stroke-width="5"/>
<line x1="1392.2" y1="1651.6" x2="1392.2" y2="1669.1" stroke="#000" stroke-width="4.6" stroke-linecap="butt"/>
<text x="1392.2" y="1708" font-size="42" text-anchor="middle" textLength="50.6" lengthAdjust="spacingAndGlyphs">0.0</text>
<line x1="1519.3" y1="1651.6" x2="1519.3" y2="1669.1" stroke="#000" stroke-width="4.6" stroke-linecap="butt"/>
<text x="1519.3" y="1708" font-size="42" text-anchor="middle" textLength="50.6" lengthAdjust="spacingAndGlyphs">0.5</text>
<line x1="1646.4" y1="1651.6" x2="1646.4" y2="1669.1" stroke="#000" stroke-width="4.6" stroke-linecap="butt"/>
<text x="1646.4" y="1708" font-size="42" text-anchor="middle" textLength="50.6" lengthAdjust="spacingAndGlyphs">1.0</text>
<line x1="1773.5" y1="1651.6" x2="1773.5" y2="1669.1" stroke="#000" stroke-width="4.6" stroke-linecap="butt"/>
<text x="1773.5" y="1708" font-size="42" text-anchor="middle" textLength="50.6" lengthAdjust="spacingAndGlyphs">1.5</text>
<line x1="1900.6" y1="1651.6" x2="1900.6" y2="1669.1" stroke="#000" stroke-width="4.6" stroke-linecap="butt"/>
<text x="1900.6" y="1708" font-size="42" text-anchor="middle" textLength="50.6" lengthAdjust="spacingAndGlyphs">2.0</text>
<line x1="2027.7" y1="1651.6" x2="2027.7" y2="1669.1" stroke="#000" stroke-width="4.6" stroke-linecap="butt"/>
<text x="2027.7" y="1708" font-size="42" text-anchor="middle" textLength="50.6" lengthAdjust="spacingAndGlyphs">2.5</text>
<line x1="2154.8" y1="1651.6" x2="2154.8" y2="1669.1" stroke="#000" stroke-width="4.6" stroke-linecap="butt"/>
<text x="2154.8" y="1708" font-size="42" text-anchor="middle" textLength="50.6" lengthAdjust="spacingAndGlyphs">3.0</text>
<line x1="2281.9" y1="1651.6" x2="2281.9" y2="1669.1" stroke="#000" stroke-width="4.6" stroke-linecap="butt"/>
<text x="2281.9" y="1708" font-size="42" text-anchor="middle" textLength="50.6" lengthAdjust="spacingAndGlyphs">3.5</text>
<line x1="1310.1" y1="1568.7" x2="1327.6" y2="1568.7" stroke="#000" stroke-width="4.6" stroke-linecap="butt"/>
<text x="1303" y="1581" font-size="42" text-anchor="end" textLength="20.2" lengthAdjust="spacingAndGlyphs">0</text>
<line x1="1310.1" y1="1445.8" x2="1327.6" y2="1445.8" stroke="#000" stroke-width="4.6" stroke-linecap="butt"/>
<text x="1303" y="1458.1" font-size="42" text-anchor="end" textLength="40.4" lengthAdjust="spacingAndGlyphs">20</text>
<line x1="1310.1" y1="1322.9" x2="1327.6" y2="1322.9" stroke="#000" stroke-width="4.6" stroke-linecap="butt"/>
<text x="1303" y="1335.2" font-size="42" text-anchor="end" textLength="40.4" lengthAdjust="spacingAndGlyphs">40</text>
<line x1="1310.1" y1="1200" x2="1327.6" y2="1200" stroke="#000" stroke-width="4.6" stroke-linecap="butt"/>
<text x="1303" y="1212.3" font-size="42" text-anchor="end" textLength="40.4" lengthAdjust="spacingAndGlyphs">60</text>
<line x1="1310.1" y1="1077.1" x2="1327.6" y2="1077.1" stroke="#000" stroke-width="4.6" stroke-linecap="butt"/>
<text x="1303" y="1089.4" font-size="42" text-anchor="end" textLength="40.4" lengthAdjust="spacingAndGlyphs">80</text>
<line x1="1310.1" y1="954.2" x2="1327.6" y2="954.2" stroke="#000" stroke-width="4.6" stroke-linecap="butt"/>
<text x="1303" y="966.5" font-size="42" text-anchor="end" textLength="60.7" lengthAdjust="spacingAndGlyphs">100</text>
<text x="1213" y="1290.9" font-size="58" text-anchor="middle" textLength="280.4" lengthAdjust="spacingAndGlyphs" transform="rotate(-90 1213 1290.9)">Current/μA</text>
<text x="1818.6" y="1787.8" font-size="57" text-anchor="middle" textLength="453.8" lengthAdjust="spacingAndGlyphs">Concentration/μM</text>
<text x="1404.1" y="998.9" font-size="84" text-anchor="middle" textLength="107.6" lengthAdjust="spacingAndGlyphs">(d)</text>
<text x="2055.6" y="1009.3" font-size="40" text-anchor="middle" textLength="110" lengthAdjust="spacingAndGlyphs">Hg(II)</text>
<text x="2022.6" y="1412.4" font-size="47.5" text-anchor="middle" textLength="183.5" lengthAdjust="spacingAndGlyphs">R<tspan font-size="29" dy="-21">2</tspan><tspan dy="21">=0.985</tspan></text>
<text x="2017.9" y="1536.1" font-size="47" text-anchor="middle" textLength="410" lengthAdjust="spacingAndGlyphs">y(μA)=29.85C - 5.84</text>
</g>
</svg>
</body>
</html>
